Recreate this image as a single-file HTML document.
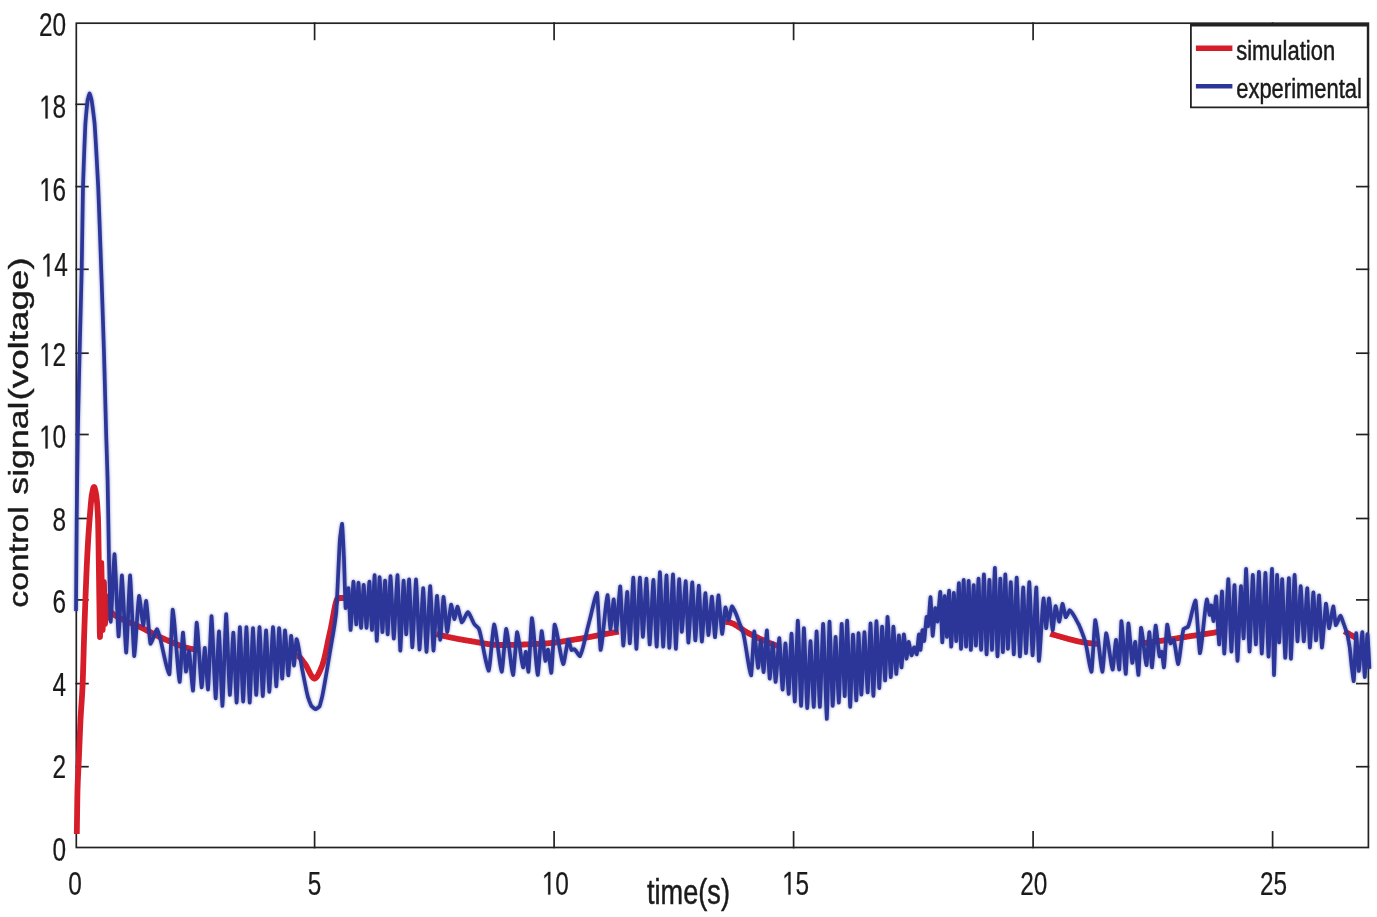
<!DOCTYPE html>
<html><head><meta charset="utf-8"><title>control signal</title>
<style>
html,body{margin:0;padding:0;background:#fff;}
body{width:1377px;height:917px;overflow:hidden;}
svg{display:block;font-family:"Liberation Sans",sans-serif;}
</style></head>
<body>
<svg width="1377" height="917" viewBox="0 0 1377 917">
<rect width="1377" height="917" fill="#ffffff"/>
<g stroke="#222222" stroke-width="1.7" fill="none" stroke-linecap="square">
<rect x="76.3" y="23.2" width="1292.1" height="824.3"/>
<line x1="76.3" y1="766.7" x2="87.9" y2="766.7"/>
<line x1="1368.4" y1="766.7" x2="1356.8" y2="766.7"/>
<line x1="76.3" y1="683.6" x2="87.9" y2="683.6"/>
<line x1="1368.4" y1="683.6" x2="1356.8" y2="683.6"/>
<line x1="76.3" y1="599.9" x2="87.9" y2="599.9"/>
<line x1="1368.4" y1="599.9" x2="1356.8" y2="599.9"/>
<line x1="76.3" y1="518.5" x2="87.9" y2="518.5"/>
<line x1="1368.4" y1="518.5" x2="1356.8" y2="518.5"/>
<line x1="76.3" y1="434.5" x2="87.9" y2="434.5"/>
<line x1="1368.4" y1="434.5" x2="1356.8" y2="434.5"/>
<line x1="76.3" y1="353.2" x2="87.9" y2="353.2"/>
<line x1="1368.4" y1="353.2" x2="1356.8" y2="353.2"/>
<line x1="76.3" y1="269.3" x2="87.9" y2="269.3"/>
<line x1="1368.4" y1="269.3" x2="1356.8" y2="269.3"/>
<line x1="76.3" y1="186.6" x2="87.9" y2="186.6"/>
<line x1="1368.4" y1="186.6" x2="1356.8" y2="186.6"/>
<line x1="76.3" y1="104.3" x2="87.9" y2="104.3"/>
<line x1="1368.4" y1="104.3" x2="1356.8" y2="104.3"/>
<line x1="314.6" y1="847.5" x2="314.6" y2="831.9"/>
<line x1="314.6" y1="23.2" x2="314.6" y2="39.4"/>
<line x1="554.1" y1="847.5" x2="554.1" y2="831.9"/>
<line x1="554.1" y1="23.2" x2="554.1" y2="39.4"/>
<line x1="793.6" y1="847.5" x2="793.6" y2="831.9"/>
<line x1="793.6" y1="23.2" x2="793.6" y2="39.4"/>
<line x1="1033.1" y1="847.5" x2="1033.1" y2="831.9"/>
<line x1="1033.1" y1="23.2" x2="1033.1" y2="39.4"/>
<line x1="1272.6" y1="847.5" x2="1272.6" y2="831.9"/>
<line x1="1272.6" y1="23.2" x2="1272.6" y2="39.4"/>
</g>
<defs><filter id="soft" x="-2%" y="-2%" width="104%" height="104%"><feGaussianBlur stdDeviation="1.5"/></filter></defs>
<path d="M76.8 834.0L77.3 799.2L77.5 790.0L77.8 780.9L78.3 770.1L78.8 760.0L79.3 747.9L79.8 735.6L80.3 724.1L80.5 720.0L80.8 714.6L81.3 706.8L81.8 699.5L82.3 691.2L82.6 685.0L82.8 680.0L83.3 663.9L83.8 646.4L84.0 640.0L84.3 631.0L84.8 616.4L85.3 602.6L85.4 600.0L85.8 589.6L86.3 577.0L86.8 565.3L87.3 555.0L87.8 546.0L88.3 537.7L88.8 530.1L89.3 523.1L89.7 518.0L89.8 516.8L90.3 510.5L90.8 504.5L91.3 499.2L91.8 495.2L92.0 494.0L92.3 492.5L92.8 490.0L93.3 488.1L93.8 487.1L94.0 487.0L94.3 487.2L94.8 488.4L95.3 490.4L95.8 492.9L96.0 494.0L96.3 495.8L96.8 499.9L97.3 505.8L97.8 514.0L98.0 518.0L98.3 529.7L98.8 562.2L99.0 575.0L99.3 597.1L99.8 632.5L100.0 637.0L100.3 627.0L100.8 587.4L101.3 563.0L101.8 585.1L102.3 620.9L102.6 630.0L102.8 626.9L103.3 603.2L103.8 582.8L103.9 582.0L104.3 594.6L104.8 620.3L105.0 624.0L105.3 618.9L105.8 601.1L106.1 596.0L106.3 597.9L106.8 611.4L107.2 618.0L107.3 617.8L107.8 612.0L108.3 606.2L108.4 606.0L108.8 606.3L109.3 607.4L109.8 608.9L110.3 610.5L110.8 611.7L111.0 612.0L111.3 612.3L111.8 612.9L112.3 613.3L112.8 613.8L113.3 614.2L113.8 614.6L114.3 614.9L114.8 615.3L115.3 615.6L115.8 615.8L116.3 616.1L116.8 616.4L117.3 616.6L117.8 616.9L118.3 617.1L118.8 617.4L119.3 617.6L119.8 617.9L120.0 618.0L120.3 618.2L120.8 618.4L121.3 618.7L121.8 619.0L122.3 619.2L122.8 619.5L123.3 619.7L123.8 619.9L124.3 620.2L124.8 620.4L125.3 620.6L125.8 620.9L126.3 621.1L126.8 621.3L127.3 621.5L127.8 621.8L128.3 622.0L128.8 622.2L129.3 622.4L129.8 622.6L130.3 622.8L130.8 623.0L131.3 623.2L131.8 623.4L132.3 623.7L132.8 623.9L133.3 624.1L133.8 624.3L134.3 624.5L134.8 624.7L135.3 624.9L135.8 625.1L136.3 625.3L136.8 625.6L137.3 625.8L137.8 626.0L138.3 626.2L138.8 626.4L139.3 626.7L139.8 626.9L140.0 627.0L140.3 627.1L140.8 627.4L141.3 627.6L141.8 627.9L142.3 628.1L142.8 628.4L143.3 628.6L143.8 628.9L144.3 629.1L144.8 629.4L145.3 629.6L145.8 629.9L146.3 630.2L146.8 630.4L147.3 630.7L147.8 630.9L148.3 631.2L148.8 631.5L149.3 631.7L149.8 632.0L150.3 632.3L150.8 632.5L151.3 632.8L151.8 633.0L152.3 633.3L152.8 633.6L153.3 633.8L153.8 634.1L154.3 634.3L154.8 634.6L155.3 634.9L155.8 635.1L156.3 635.4L156.8 635.6L157.3 635.8L157.8 636.1L158.3 636.3L158.8 636.6L159.3 636.8L159.8 637.0L160.3 637.3L160.8 637.5L161.3 637.7L161.8 637.9L162.0 638.0L162.3 638.1L162.8 638.3L163.3 638.6L163.8 638.8L164.3 639.0L164.8 639.2L165.3 639.4L165.8 639.7L166.3 639.9L166.8 640.1L167.3 640.3L167.8 640.5L168.3 640.8L168.8 641.0L169.3 641.2L169.8 641.4L170.3 641.6L170.8 641.9L171.3 642.1L171.8 642.3L172.3 642.5L172.8 642.7L173.3 642.9L173.8 643.1L174.3 643.4L174.8 643.6L175.3 643.8L175.8 644.0L176.3 644.2L176.8 644.4L177.3 644.6L177.8 644.8L178.3 645.0L178.8 645.2L179.3 645.4L179.8 645.6L180.3 645.7L180.8 645.9L181.3 646.1L181.8 646.3L182.3 646.5L182.8 646.6L183.3 646.8L183.8 647.0L184.3 647.1L184.8 647.3L185.3 647.4L185.8 647.6L186.3 647.7L186.8 647.8L187.3 648.0L187.8 648.1L188.3 648.2L188.8 648.4L189.3 648.5L189.8 648.6L190.3 648.7L190.8 648.8L191.3 648.9L191.8 649.0L192.0 649.0L192.3 649.0L192.8 649.1L193.3 649.2L193.8 649.3L194.3 649.4L194.8 649.5L195.3 649.5L195.8 649.6L196.3 649.7L196.8 649.8L197.3 649.8L197.8 649.9L198.3 650.0L198.8 650.0L199.3 650.1L199.8 650.2M297.0 655.6L297.3 655.6L297.8 655.8L298.3 656.0L298.8 656.4L299.3 656.8L299.8 657.2L300.3 657.8L300.8 658.4L301.3 659.0L301.8 659.7L302.3 660.3L302.8 661.0L303.3 661.7L303.8 662.4L304.3 663.1L304.8 663.7L305.0 664.0L305.3 664.4L305.8 665.1L306.3 665.9L306.8 666.8L307.3 667.8L307.8 668.8L308.3 669.8L308.8 670.8L309.3 671.8L309.8 672.8L310.3 673.8L310.8 674.7L311.3 675.6L311.8 676.3L312.3 677.0L312.8 677.6L313.3 678.0L313.8 678.3L314.3 678.5L314.5 678.5L314.8 678.5L315.3 678.3L315.8 677.9L316.3 677.5L316.8 676.9L317.3 676.1L317.8 675.3L318.3 674.4L318.8 673.4L319.3 672.3L319.8 671.2L320.3 670.1L320.8 668.9L321.3 667.7L321.8 666.5L322.0 666.0L322.3 665.2L322.8 663.8L323.3 662.2L323.8 660.4L324.3 658.4L324.8 656.3L325.3 654.1L325.8 651.8L326.3 649.4L326.8 647.0L327.3 644.5L327.8 642.1L328.3 639.7L328.8 637.3L329.3 635.0L329.8 632.8L330.0 632.0L330.3 630.7L330.8 628.4L331.3 625.8L331.8 623.2L332.3 620.5L332.8 617.7L333.3 615.0L333.8 612.3L334.3 609.7L334.8 607.2L335.3 605.0L335.8 602.9L336.3 601.2L336.8 599.8L337.3 598.8L337.8 598.2L338.2 598.0L338.3 598.0L338.8 598.0L339.3 598.0L339.8 598.0L340.3 598.0L340.8 598.0L341.3 598.0L341.8 598.0L342.3 598.0L342.8 598.0L343.3 598.0L343.8 598.0L344.3 598.0L344.8 598.0L345.0 598.0L345.3 598.0L345.8 598.0L346.3 598.1L346.8 598.1M436.3 634.0L436.8 634.1L437.3 634.3L437.8 634.4L438.3 634.5L438.8 634.7L439.3 634.8L439.8 634.9L440.0 635.0L440.3 635.1L440.8 635.2L441.3 635.3L441.8 635.5L442.3 635.6L442.8 635.7L443.3 635.8L443.8 635.9L444.3 636.1L444.8 636.2L445.3 636.3L445.8 636.4L446.3 636.5L446.8 636.6L447.3 636.8L447.8 636.9L448.3 637.0L448.8 637.1L449.3 637.2L449.8 637.3L450.3 637.4L450.8 637.5L451.3 637.6L451.8 637.7L452.3 637.8L452.8 637.9L453.3 638.0L453.8 638.1L454.3 638.2L454.8 638.3L455.3 638.4L455.8 638.5L456.3 638.6L456.8 638.7L457.3 638.8L457.8 638.9L458.3 639.0L458.8 639.1L459.3 639.2L459.8 639.3L460.3 639.4L460.8 639.4L461.3 639.5L461.8 639.6L462.3 639.7L462.8 639.8L463.3 639.9L463.8 640.0L464.3 640.1L464.8 640.1L465.3 640.2L465.8 640.3L466.3 640.4L466.8 640.5L467.3 640.6L467.8 640.6L468.3 640.7L468.8 640.8L469.3 640.9L469.8 641.0L470.0 641.0L470.3 641.0L470.8 641.1L471.3 641.2L471.8 641.3L472.3 641.4L472.8 641.5L473.3 641.6L473.8 641.6L474.3 641.7L474.8 641.8L475.3 641.9L475.8 642.0L476.3 642.1L476.8 642.2L477.3 642.3L477.8 642.4L478.3 642.4L478.8 642.5L479.3 642.6L479.8 642.7L480.3 642.8L480.8 642.9L481.3 643.0L481.8 643.1L482.3 643.2L482.8 643.2L483.3 643.3L483.8 643.4L484.3 643.5L484.8 643.6L485.3 643.6L485.8 643.7L486.3 643.8L486.8 643.9L487.3 644.0L487.8 644.0L488.3 644.1L488.8 644.2L489.3 644.2L489.8 644.3L490.3 644.4L490.8 644.4L491.3 644.5L491.8 644.5L492.3 644.6L492.8 644.6L493.3 644.7L493.8 644.7L494.3 644.8L494.8 644.8L495.3 644.8L495.8 644.9L496.3 644.9L496.8 644.9L497.3 644.9L497.8 645.0L498.3 645.0L498.8 645.0L499.3 645.0L499.8 645.0L500.0 645.0L500.3 645.0L500.8 645.0L501.3 645.0L501.8 645.0L502.3 645.0L502.8 645.0L503.3 645.0L503.8 645.0L504.3 645.0L504.8 645.0L505.3 645.0L505.8 645.0L506.3 645.0L506.8 645.0L507.3 644.9L507.8 644.9L508.3 644.9L508.8 644.9L509.3 644.9L509.8 644.9L510.3 644.9L510.8 644.9L511.3 644.9L511.8 644.9L512.3 644.9L512.8 644.8L513.3 644.8L513.8 644.8L514.3 644.8L514.8 644.8L515.3 644.8L515.8 644.8L516.3 644.8L516.8 644.7L517.3 644.7L517.8 644.7L518.3 644.7L518.8 644.7L519.3 644.7L519.8 644.7L520.3 644.6L520.8 644.6L521.3 644.6L521.8 644.6L522.3 644.6L522.8 644.6L523.3 644.5L523.8 644.5L524.3 644.5L524.8 644.5L525.3 644.5L525.8 644.4L526.3 644.4L526.8 644.4L527.3 644.4L527.8 644.4L528.3 644.3L528.8 644.3L529.3 644.3L529.8 644.3L530.3 644.2L530.8 644.2L531.3 644.2L531.8 644.2L532.3 644.2L532.8 644.1L533.3 644.1L533.8 644.1L534.3 644.1L534.8 644.0L535.3 644.0L535.8 644.0L536.3 644.0L536.8 643.9L537.3 643.9L537.8 643.9L538.3 643.9L538.8 643.8L539.3 643.8L539.8 643.8L540.3 643.8L540.8 643.7L541.3 643.7L541.8 643.7L542.3 643.6L542.8 643.6L543.3 643.6L543.8 643.6L544.3 643.5L544.8 643.5L545.0 643.5L545.3 643.5L545.8 643.5L546.3 643.4L546.8 643.4L547.3 643.4L547.8 643.3L548.3 643.3L548.8 643.2L549.3 643.2L549.8 643.1L550.3 643.1L550.8 643.0L551.3 643.0L551.8 642.9L552.3 642.9L552.8 642.8L553.3 642.8L553.8 642.7L554.3 642.7L554.8 642.6L555.3 642.5L555.8 642.5L556.3 642.4L556.8 642.3L557.3 642.3L557.8 642.2L558.3 642.1L558.8 642.1L559.3 642.0L559.8 641.9L560.3 641.8L560.8 641.8L561.3 641.7L561.8 641.6L562.3 641.5L562.8 641.5L563.3 641.4L563.8 641.3L564.3 641.2L564.8 641.1L565.3 641.1L565.8 641.0L566.3 640.9L566.8 640.8L567.3 640.7L567.8 640.7L568.3 640.6L568.8 640.5L569.3 640.4L569.8 640.3L570.3 640.2L570.8 640.2L571.3 640.1L571.8 640.0L572.3 639.9L572.8 639.8L573.3 639.8L573.8 639.7L574.3 639.6L574.8 639.5L575.3 639.4L575.8 639.3L576.3 639.3L576.8 639.2L577.3 639.1L577.8 639.0L578.0 639.0L578.3 639.0L578.8 638.9L579.3 638.8L579.8 638.7L580.3 638.6L580.8 638.6L581.3 638.5L581.8 638.4L582.3 638.3L582.8 638.2L583.3 638.1L583.8 638.0L584.3 638.0L584.8 637.9L585.3 637.8L585.8 637.7L586.3 637.6L586.8 637.5L587.3 637.4L587.8 637.3L588.3 637.2L588.8 637.1L589.3 637.1L589.8 637.0L590.3 636.9L590.8 636.8L591.3 636.7L591.8 636.6L592.3 636.5L592.8 636.4L593.3 636.3L593.8 636.2L594.3 636.1L594.8 636.0L595.3 635.9L595.8 635.8L596.3 635.7L596.8 635.6L597.3 635.5L597.8 635.4L598.3 635.4L598.8 635.3L599.3 635.2L599.8 635.1L600.3 635.0L600.8 634.9L601.3 634.8L601.8 634.7L602.3 634.6L602.8 634.5L603.3 634.4L603.8 634.3L604.3 634.2L604.8 634.1L605.3 634.0L605.8 633.9L606.3 633.8L606.8 633.8L607.3 633.7L607.8 633.6L608.3 633.5L608.8 633.4L609.3 633.3L609.8 633.2L610.3 633.1L610.8 633.0L611.0 633.0L611.3 632.9L611.8 632.9L612.3 632.8L612.8 632.7L613.3 632.6L613.8 632.5L614.3 632.4L614.8 632.3L615.3 632.2L615.8 632.2L616.3 632.1L616.8 632.0L617.3 631.9L617.8 631.8L618.3 631.7L618.8 631.6M725.3 621.9L725.8 621.9L726.3 622.0L726.8 622.0L727.0 622.0L727.3 622.0L727.8 622.1L728.3 622.2L728.8 622.3L729.3 622.4L729.8 622.5L730.3 622.6L730.8 622.8L731.3 623.0L731.8 623.2L732.3 623.4L732.8 623.6L733.3 623.8L733.8 624.1L734.3 624.3L734.8 624.6L735.3 624.9L735.8 625.2L736.3 625.5L736.8 625.8L737.3 626.1L737.8 626.4L738.3 626.7L738.8 627.0L739.3 627.4L739.8 627.7L740.3 628.0L740.8 628.3L741.3 628.7L741.8 629.0L742.3 629.4L742.8 629.7L743.3 630.0L743.8 630.4L744.3 630.7L744.8 631.0L745.3 631.3L745.8 631.6L746.3 632.0L746.8 632.3L747.3 632.6L747.8 632.8L748.3 633.1L748.8 633.4L749.3 633.7L749.8 633.9L750.0 634.0L750.3 634.1L750.8 634.4L751.3 634.6L751.8 634.9L752.3 635.1L752.8 635.3L753.3 635.6L753.8 635.8L754.3 636.1L754.8 636.3L755.3 636.5L755.8 636.8L756.3 637.0L756.8 637.3L757.3 637.5L757.8 637.7L758.3 638.0L758.8 638.2L759.3 638.4L759.8 638.7L760.3 638.9L760.8 639.1L761.3 639.4L761.8 639.6L762.3 639.8L762.8 640.1L763.3 640.3L763.8 640.5L764.3 640.7L764.8 641.0L765.3 641.2L765.8 641.4L766.3 641.6L766.8 641.8L767.3 642.0L767.8 642.2L768.3 642.5L768.8 642.7L769.3 642.9L769.8 643.1L770.3 643.3L770.8 643.5L771.3 643.7L771.8 643.8L772.3 644.0L772.8 644.2L773.3 644.4L773.8 644.6L774.3 644.8L774.8 644.9L775.0 645.0L775.3 645.1L775.8 645.3L776.3 645.4L776.8 645.6L777.3 645.8L777.8 646.0L778.3 646.1L778.8 646.3M1050.3 633.8L1050.8 634.0L1051.3 634.1L1051.8 634.3L1052.3 634.4L1052.7 634.5L1052.8 634.5L1053.3 634.7L1053.8 634.8L1054.3 634.9L1054.8 635.1L1055.3 635.2L1055.8 635.4L1056.3 635.5L1056.8 635.6L1057.3 635.8L1057.8 635.9L1058.3 636.1L1058.8 636.2L1059.3 636.4L1059.8 636.5L1060.3 636.6L1060.8 636.8L1061.3 636.9L1061.8 637.1L1062.3 637.2L1062.8 637.4L1063.3 637.5L1063.8 637.6L1064.3 637.8L1064.8 637.9L1065.3 638.1L1065.8 638.2L1066.3 638.3L1066.8 638.5L1067.3 638.6L1067.8 638.8L1068.3 638.9L1068.8 639.0L1069.3 639.2L1069.8 639.3L1070.3 639.4L1070.8 639.6L1071.3 639.7L1071.8 639.8L1072.3 640.0L1072.8 640.1L1073.3 640.2L1073.8 640.3L1074.3 640.4L1074.8 640.6L1075.3 640.7L1075.8 640.8L1076.3 640.9L1076.8 641.0L1077.3 641.2L1077.8 641.3L1078.3 641.4L1078.8 641.5L1079.3 641.6L1079.8 641.7L1080.3 641.8L1080.8 641.9L1081.3 642.0L1081.8 642.1L1082.3 642.2L1082.8 642.3L1083.3 642.3L1083.8 642.4L1084.3 642.5L1084.8 642.6L1085.3 642.7L1085.8 642.7L1086.3 642.8L1086.8 642.9L1087.3 642.9L1087.8 643.0L1088.3 643.0L1088.8 643.1L1089.3 643.2L1089.8 643.2L1090.3 643.2L1090.8 643.3L1091.3 643.3L1091.8 643.4L1092.3 643.4L1092.8 643.5L1093.3 643.5L1093.8 643.6L1094.3 643.6L1094.8 643.7L1095.3 643.7L1095.8 643.7L1096.3 643.8L1096.8 643.8L1097.3 643.9L1097.8 643.9M1140.3 643.6L1140.8 643.5L1141.3 643.4L1141.8 643.4L1142.3 643.3L1142.8 643.2L1143.3 643.2L1143.8 643.1L1144.3 643.0L1144.8 643.0L1145.3 642.9L1145.8 642.8L1146.3 642.8L1146.8 642.7L1147.3 642.6L1147.8 642.6L1148.3 642.5L1148.8 642.4L1149.3 642.4L1149.8 642.3L1150.3 642.2L1150.8 642.2L1151.3 642.1L1151.8 642.0L1152.3 642.0L1152.8 641.9L1153.3 641.8L1153.8 641.8L1154.3 641.7L1154.8 641.6L1155.3 641.6L1155.8 641.5L1156.3 641.4L1156.8 641.4L1157.3 641.3L1157.8 641.2L1158.3 641.2L1158.8 641.1L1159.3 641.0L1159.6 641.0L1159.8 641.0L1160.3 640.9L1160.8 640.8L1161.3 640.8L1161.8 640.7L1162.3 640.6L1162.8 640.6L1163.3 640.5L1163.8 640.4L1164.3 640.4L1164.8 640.3L1165.3 640.2L1165.8 640.1L1166.3 640.1L1166.8 640.0L1167.3 639.9L1167.8 639.8L1168.3 639.8L1168.8 639.7L1169.3 639.6L1169.8 639.5L1170.3 639.5L1170.8 639.4L1171.3 639.3L1171.8 639.2L1172.3 639.1L1172.8 639.0L1173.3 639.0L1173.8 638.9L1174.3 638.8L1174.8 638.7L1175.3 638.6L1175.8 638.5L1176.3 638.5L1176.8 638.4L1177.3 638.3L1177.8 638.2L1178.3 638.1L1178.8 638.0L1179.3 638.0L1179.8 637.9L1180.3 637.8L1180.8 637.7L1181.3 637.6L1181.8 637.5L1182.3 637.4L1182.8 637.4L1183.3 637.3L1183.8 637.2L1184.3 637.1L1184.8 637.0L1185.3 637.0L1185.8 636.9L1186.3 636.8L1186.8 636.7L1187.3 636.6L1187.8 636.5L1188.3 636.5L1188.8 636.4L1189.3 636.3L1189.8 636.2L1190.0 636.2L1190.3 636.2L1190.8 636.1L1191.3 636.0L1191.8 635.9L1192.3 635.9L1192.8 635.8L1193.3 635.7L1193.8 635.6L1194.3 635.6L1194.8 635.5L1195.3 635.4L1195.8 635.3L1196.3 635.3L1196.8 635.2L1197.3 635.1L1197.8 635.1L1198.3 635.0L1198.8 634.9L1199.3 634.8L1199.8 634.8L1200.3 634.7L1200.8 634.6L1201.3 634.6L1201.8 634.5L1202.3 634.4L1202.8 634.4L1203.3 634.3L1203.8 634.2L1204.3 634.1L1204.8 634.1L1205.3 634.0L1205.8 633.9L1206.3 633.8L1206.8 633.8L1207.3 633.7L1207.8 633.6L1208.3 633.5L1208.8 633.5L1209.3 633.4L1209.8 633.3L1210.3 633.2L1210.8 633.2L1211.3 633.1L1211.8 633.0L1212.3 632.9L1212.8 632.8L1213.3 632.8L1213.8 632.7L1214.3 632.6L1214.8 632.5L1215.3 632.4L1215.8 632.3L1216.3 632.2L1216.5 632.2L1216.8 632.1L1217.3 632.1L1217.8 632.0L1218.3 631.9L1218.8 631.8L1219.3 631.7L1219.8 631.5L1220.3 631.4L1220.8 631.3L1221.3 631.2L1221.8 631.1M1344.3 631.2L1344.8 631.5L1345.3 631.8L1345.8 632.1L1346.3 632.4L1346.8 632.7L1347.3 633.0L1347.8 633.2L1348.3 633.5L1348.8 633.8L1349.3 634.1L1349.8 634.4L1350.3 634.7L1350.8 635.0L1351.3 635.3L1351.8 635.5L1352.3 635.8L1352.8 636.1L1353.0 636.2L1353.3 636.4L1353.8 636.6L1354.3 636.9L1354.8 637.2L1355.3 637.5L1355.8 637.7L1356.3 638.0L1356.8 638.3" fill="none" stroke="#d61e2a" stroke-width="5.8" stroke-linejoin="round" stroke-linecap="butt"/>
<path d="M76.0 611.0L76.4 557.2L76.7 520.0L76.8 511.5L77.2 479.2L77.6 449.2L77.8 435.0L78.0 425.0L78.4 406.1L78.8 388.1L79.2 370.6L79.6 353.0L79.6 353.0L80.0 337.0L80.4 321.4L80.8 305.9L81.2 290.0L81.6 273.4L81.7 269.0L82.0 250.5L82.4 223.9L82.8 198.4L83.0 187.0L83.2 180.8L83.6 169.0L84.0 157.8L84.4 147.3L84.8 137.4L85.2 128.1L85.4 123.6L85.6 121.1L86.0 116.3L86.4 111.8L86.8 107.5L87.2 103.6L87.6 100.0L87.6 100.0L88.0 98.4L88.4 97.0L88.8 95.6L89.2 94.4L89.6 93.5L89.6 93.5L90.0 94.4L90.4 95.6L90.8 97.0L91.2 98.5L91.6 100.0L91.6 100.0L92.0 102.7L92.4 105.5L92.8 108.5L93.2 111.7L93.6 114.9L94.0 118.3L94.4 121.8L94.6 123.6L94.8 126.6L95.2 132.9L95.6 139.5L96.0 146.3L96.4 153.4L96.8 160.6L97.2 168.0L97.6 175.6L98.0 183.2L98.2 187.0L98.4 192.0L98.8 202.4L99.2 213.1L99.6 223.9L100.0 235.0L100.4 246.2L100.8 257.5L101.2 268.8L101.6 280.0L101.6 280.0L102.0 291.9L102.4 303.9L102.8 315.9L103.2 328.1L103.6 340.5L104.0 353.0L104.0 353.0L104.4 367.6L104.8 382.6L105.2 397.7L105.6 412.8L106.0 427.7L106.2 435.0L106.4 441.5L106.8 453.9L107.2 466.5L107.6 480.0L107.6 480.0L108.0 502.0L108.4 525.7L108.8 549.1L109.0 560.0L109.2 568.1L109.6 584.6L110.0 600.4L110.4 614.0L110.7 621.8L110.8 620.7L111.2 615.2L111.6 608.3L112.0 600.6L112.4 592.2L112.8 583.7L113.2 575.3L113.6 567.6L114.0 560.7L114.4 555.2L114.5 554.1L114.8 558.2L115.2 565.1L115.6 573.2L116.0 582.2L116.4 591.7L116.8 601.3L117.2 610.7L117.6 619.5L118.0 627.4L118.4 633.9L118.6 636.5L118.8 634.0L119.2 627.7L119.6 620.0L120.0 611.5L120.4 602.6L120.8 594.0L121.2 586.0L121.6 579.3L121.9 575.4L122.0 576.5L122.4 581.9L122.8 588.6L123.2 596.2L123.6 604.4L124.0 613.0L124.4 621.6L124.8 629.9L125.2 637.7L125.6 644.6L126.0 650.3L126.2 652.7L126.4 650.1L126.8 643.6L127.2 635.8L127.6 627.0L128.0 617.6L128.4 608.1L128.8 598.9L129.2 590.3L129.6 582.7L130.0 576.6L130.1 575.4L130.4 579.4L130.8 586.2L131.2 594.1L131.6 602.9L132.0 612.2L132.4 621.6L132.8 630.8L133.2 639.5L133.6 647.1L134.0 653.5L134.2 656.1L134.4 654.8L134.8 651.3L135.2 646.8L135.6 641.6L136.0 635.9L136.4 629.9L136.8 623.7L137.2 617.6L137.6 611.8L138.0 606.4L138.4 601.8L138.8 598.0L139.1 595.9L139.2 596.3L139.6 598.5L140.0 601.1L140.4 604.1L140.8 607.3L141.2 610.7L141.6 614.0L142.0 617.3L142.4 620.2L142.8 622.8L143.2 624.9L143.3 625.3L143.6 623.2L144.0 619.9L144.4 616.0L144.8 611.9L145.2 607.9L145.6 604.3L146.0 601.5L146.1 600.9L146.4 602.8L146.8 606.1L147.2 610.0L147.6 614.3L148.0 618.9L148.4 623.7L148.8 628.3L149.2 632.8L149.6 636.9L150.0 640.5L150.4 643.4L150.5 643.8L150.8 643.4L151.2 642.7L151.6 642.0L152.0 641.1L152.4 640.1L152.8 639.1L153.2 638.0L153.6 636.9L154.0 635.8L154.4 634.7L154.8 633.6L155.2 632.6L155.6 631.6L156.0 630.8L156.4 630.1L156.8 629.5L157.0 629.2L157.2 629.6L157.6 630.4L158.0 631.4L158.4 632.5L158.8 633.7L159.2 635.0L159.6 636.4L160.0 637.8L160.4 639.4L160.8 641.0L161.2 642.7L161.6 644.4L162.0 646.2L162.4 648.0L162.8 649.8L163.2 651.6L163.6 653.5L164.0 655.3L164.4 657.1L164.8 658.9L165.2 660.6L165.6 662.3L166.0 663.9L166.4 665.5L166.8 667.0L167.2 668.4L167.6 669.7L168.0 670.9L168.4 672.0L168.8 673.0L169.2 673.9L169.4 674.3L169.6 672.3L170.0 665.7L170.4 657.6L170.8 648.6L171.2 639.1L171.6 629.8L172.0 621.3L172.4 614.0L172.7 609.6L172.8 610.0L173.2 612.5L173.6 615.7L174.0 619.3L174.4 623.5L174.8 628.0L175.2 632.9L175.6 637.9L176.0 643.1L176.4 648.3L176.8 653.5L177.2 658.6L177.6 663.4L178.0 667.9L178.4 672.1L178.8 675.8L179.2 679.0L179.6 681.5L179.7 682.0L180.0 678.7L180.4 673.2L180.8 666.7L181.2 659.6L181.6 652.4L182.0 645.4L182.4 639.2L182.8 634.2L183.0 632.5L183.2 634.6L183.6 639.1L184.0 644.6L184.4 650.7L184.8 656.8L185.2 662.6L185.6 667.7L186.0 671.6L186.0 671.7L186.4 669.8L186.8 667.2L187.2 664.2L187.6 660.9L188.0 657.7L188.4 654.8L188.8 652.3L189.1 651.0L189.2 651.9L189.6 655.0L190.0 658.9L190.4 663.3L190.8 668.0L191.2 672.8L191.6 677.6L192.0 682.1L192.4 686.1L192.8 689.4L193.0 690.7L193.2 688.2L193.6 682.2L194.0 674.8L194.4 666.5L194.8 657.8L195.2 649.1L195.6 640.7L196.0 633.1L196.4 626.6L196.7 622.7L196.8 623.3L197.2 626.7L197.6 631.0L198.0 636.3L198.4 642.1L198.8 648.3L199.2 654.8L199.6 661.3L200.0 667.6L200.4 673.4L200.8 678.7L201.2 683.1L201.6 686.6L201.7 687.4L202.0 684.9L202.4 680.1L202.8 674.5L203.2 668.4L203.6 662.2L204.0 656.4L204.4 651.4L204.8 647.8L204.8 648.0L205.2 651.8L205.6 656.7L206.0 662.4L206.4 668.5L206.8 674.6L207.2 680.3L207.6 685.3L208.0 689.2L208.0 689.6L208.4 684.3L208.8 676.6L209.2 667.6L209.6 657.7L210.0 647.6L210.4 637.8L210.8 628.8L211.2 621.2L211.5 616.1L211.6 616.9L212.0 622.8L212.4 630.1L212.8 638.5L213.2 647.5L213.6 657.0L214.0 666.5L214.4 675.6L214.8 684.0L215.2 691.4L215.6 697.3L215.7 698.3L216.0 693.7L216.4 686.2L216.8 677.3L217.2 667.7L217.6 658.0L218.0 648.6L218.4 640.2L218.8 633.5L219.0 631.4L219.2 635.0L219.6 642.4L220.0 651.3L220.4 661.1L220.8 671.3L221.2 681.4L221.6 690.8L222.0 699.0L222.4 705.4L222.4 705.9L222.8 699.7L223.2 690.7L223.6 680.2L224.0 668.7L224.4 656.9L224.8 645.2L225.2 634.1L225.6 624.4L226.0 616.4L226.2 614.0L226.4 617.7L226.8 625.1L227.2 634.1L227.6 644.0L228.0 654.4L228.4 664.8L228.8 674.7L229.2 683.7L229.6 691.2L229.9 695.0L230.0 693.4L230.4 687.6L230.8 680.4L231.2 672.4L231.6 663.8L232.0 655.3L232.4 647.2L232.8 640.1L233.2 634.2L233.3 632.5L233.6 636.2L234.0 643.8L234.4 652.9L234.8 662.9L235.2 673.1L235.6 683.1L236.0 692.1L236.4 699.5L236.6 702.7L236.8 699.9L237.2 692.1L237.6 682.6L238.0 671.9L238.4 660.9L238.8 650.0L239.2 640.1L239.6 631.8L239.9 627.1L240.0 628.6L240.4 636.0L240.8 645.1L241.2 655.4L241.6 666.3L242.0 677.1L242.4 687.1L242.8 695.6L243.2 701.6L243.2 701.1L243.6 694.1L244.0 685.3L244.4 675.1L244.8 664.3L245.2 653.4L245.6 643.3L246.0 634.4L246.4 627.5L246.4 627.1L246.8 633.2L247.2 641.9L247.6 652.0L248.0 662.9L248.4 674.0L248.8 684.4L249.2 693.7L249.6 701.1L249.7 702.7L250.0 698.0L250.4 689.7L250.8 679.9L251.2 669.3L251.6 658.4L252.0 647.9L252.4 638.5L252.8 630.8L253.0 628.1L253.2 631.2L253.6 638.3L254.0 646.9L254.4 656.4L254.8 666.2L255.2 675.7L255.6 684.3L256.0 691.6L256.2 695.0L256.4 693.0L256.8 686.1L257.2 677.6L257.6 668.1L258.0 658.2L258.4 648.4L258.8 639.4L259.2 631.8L259.5 627.1L259.6 628.1L260.0 634.7L260.4 643.1L260.8 652.6L261.2 662.7L261.6 672.7L262.0 682.0L262.4 690.1L262.8 696.1L262.8 696.0L263.2 690.1L263.6 682.4L264.0 673.4L264.4 663.9L264.8 654.3L265.2 645.3L265.6 637.3L266.0 631.1L266.1 630.3L266.4 634.8L266.8 641.8L267.2 650.0L267.6 658.8L268.0 667.8L268.4 676.4L268.8 684.0L269.2 690.1L269.3 691.8L269.6 688.6L270.0 682.6L270.4 675.4L270.8 667.5L271.2 659.2L271.6 650.9L272.0 643.0L272.4 635.8L272.8 629.9L273.0 627.1L273.2 628.9L273.6 634.9L274.0 642.4L274.4 650.7L274.8 659.3L275.2 667.8L275.6 675.7L276.0 682.3L276.3 686.3L276.4 685.2L276.8 678.5L277.2 670.0L277.6 660.5L278.0 650.7L278.4 641.4L278.8 633.4L279.1 628.1L279.2 628.7L279.6 633.8L280.0 640.4L280.4 648.0L280.8 655.9L281.2 663.6L281.6 670.6L282.0 676.4L282.2 678.7L282.4 676.4L282.8 670.4L283.2 663.0L283.6 654.9L284.0 646.8L284.4 639.4L284.8 633.1L285.0 630.3L285.2 631.8L285.6 636.4L286.0 642.0L286.4 648.4L286.8 655.0L287.2 661.4L287.6 667.4L288.0 672.4L288.3 675.4L288.4 674.6L288.8 670.0L289.2 664.2L289.6 657.7L290.0 651.0L290.4 644.7L290.8 639.3L291.1 635.8L291.2 636.1L291.6 639.5L292.0 643.8L292.4 648.6L292.8 653.7L293.2 658.5L293.6 662.6L294.0 665.6L294.0 665.5L294.4 662.3L294.8 658.1L295.2 653.4L295.6 648.6L296.0 644.1L296.4 640.4L296.6 639.0L296.8 639.6L297.2 640.9L297.6 642.5L298.0 644.4L298.4 646.4L298.8 648.6L299.2 650.9L299.6 653.4L300.0 655.9L300.4 658.4L300.8 660.9L301.2 663.4L301.6 665.9L302.0 668.2L302.4 670.4L302.5 670.9L302.8 672.4L303.2 674.4L303.6 676.5L304.0 678.5L304.4 680.5L304.8 682.5L305.2 684.5L305.6 686.5L306.0 688.4L306.4 690.3L306.8 692.2L307.2 693.9L307.6 695.6L307.9 697.0L308.0 697.2L308.4 698.3L308.8 699.5L309.2 700.6L309.6 701.6L310.0 702.7L310.4 703.7L310.8 704.6L311.2 705.5L311.4 706.0L311.6 706.1L312.0 706.5L312.4 706.9L312.8 707.3L313.2 707.6L313.6 707.9L314.0 708.2L314.4 708.5L314.8 708.8L315.2 709.0L315.6 709.2L315.6 709.2L316.0 709.0L316.4 708.8L316.8 708.6L317.2 708.3L317.6 708.0L318.0 707.7L318.4 707.4L318.8 707.0L319.2 706.7L319.5 706.4L319.6 706.1L320.0 704.9L320.4 703.6L320.8 702.1L321.2 700.6L321.6 699.0L322.0 697.5L322.1 697.0L322.4 695.6L322.8 693.6L323.2 691.5L323.6 689.3L324.0 687.1L324.4 684.9L324.8 682.7L325.2 680.4L325.6 678.0L326.0 675.7L326.4 673.3L326.8 671.0L327.2 668.6L327.6 666.2L328.0 663.8L328.4 661.4L328.8 659.0L329.2 656.7L329.6 654.3L329.7 653.4L330.0 651.9L330.4 649.5L330.8 647.2L331.2 644.9L331.6 642.6L332.0 640.3L332.4 638.0L332.8 635.7L333.2 633.4L333.6 631.0L334.0 628.5L334.4 625.9L334.8 623.2L335.2 620.4L335.6 617.5L336.0 614.4L336.3 612.0L336.4 610.2L336.8 603.0L337.2 595.1L337.6 586.6L338.0 577.9L338.4 569.1L338.8 560.4L339.2 552.2L339.6 544.6L339.9 539.3L340.0 538.5L340.4 535.2L340.8 532.0L341.2 529.0L341.6 526.4L342.0 524.2L342.1 523.8L342.4 527.6L342.8 534.1L343.2 541.7L343.6 549.8L343.8 554.5L344.0 559.2L344.4 572.4L344.8 586.4L345.2 599.0L345.6 608.2L345.6 608.1L346.0 605.9L346.4 603.1L346.8 599.8L347.2 596.5L347.6 593.2L348.0 590.4L348.4 588.2L348.4 588.1L348.8 593.9L349.2 602.0L349.6 611.1L350.0 620.0L350.4 627.3L350.6 630.0L350.8 627.6L351.2 621.6L351.6 614.2L352.0 606.1L352.4 598.0L352.8 590.6L353.2 584.4L353.4 581.6L353.6 583.3L354.0 588.5L354.4 595.0L354.8 602.1L355.2 609.3L355.6 616.0L356.0 621.6L356.3 624.5L356.4 622.8L356.8 615.9L357.2 607.3L357.6 598.1L358.0 589.7L358.4 583.3L358.5 582.7L358.8 587.2L359.2 594.0L359.6 601.9L360.0 610.2L360.4 617.9L360.8 624.5L361.1 627.8L361.2 626.4L361.6 620.7L362.0 613.6L362.4 605.9L362.8 598.2L363.2 591.2L363.6 585.8L363.7 584.9L364.0 588.3L364.4 594.1L364.8 600.9L365.2 608.1L365.6 615.2L366.0 621.5L366.4 626.6L366.5 627.8L366.8 624.6L367.2 618.5L367.6 611.3L368.0 603.5L368.4 595.8L368.8 588.9L369.2 583.3L369.4 581.6L369.6 584.8L370.0 591.7L370.4 599.9L370.8 608.8L371.2 617.3L371.6 624.7L372.0 630.0L372.0 629.6L372.4 623.0L372.8 614.4L373.2 604.6L373.6 594.6L374.0 585.3L374.4 577.8L374.6 575.1L374.8 579.5L375.2 591.1L375.6 605.0L376.0 619.3L376.4 632.1L376.8 640.9L376.8 640.5L377.2 633.5L377.6 624.5L378.0 614.1L378.4 603.4L378.8 593.1L379.2 584.1L379.6 577.3L379.6 577.2L380.0 582.9L380.4 590.6L380.8 599.5L381.2 608.7L381.6 617.7L382.0 625.6L382.4 631.6L382.4 632.1L382.8 626.9L383.2 619.0L383.6 609.9L384.0 600.5L384.4 591.6L384.8 584.2L385.1 580.5L385.2 582.4L385.6 589.5L386.0 598.4L386.4 608.2L386.8 617.9L387.2 626.6L387.6 633.3L387.7 634.3L388.0 629.5L388.4 621.7L388.8 612.4L389.2 602.6L389.6 593.1L390.0 584.5L390.4 577.6L390.5 576.1L390.8 580.0L391.2 586.9L391.6 595.1L392.0 604.0L392.4 613.2L392.8 622.0L393.2 629.9L393.6 636.3L393.8 638.7L394.0 636.2L394.4 630.5L394.8 623.5L395.2 615.8L395.6 607.7L396.0 599.5L396.4 591.6L396.8 584.5L397.2 578.5L397.5 575.1L397.6 576.9L398.0 585.8L398.4 596.9L398.8 609.4L399.2 622.1L399.6 634.1L400.0 644.3L400.3 650.7L400.4 649.7L400.8 643.0L401.2 634.5L401.6 624.9L402.0 614.6L402.4 604.5L402.8 595.0L403.2 586.8L403.6 580.5L403.6 580.5L404.0 586.8L404.4 595.2L404.8 604.8L405.2 614.6L405.6 623.7L406.0 631.2L406.2 634.3L406.4 631.9L406.8 625.1L407.2 616.8L407.6 607.7L408.0 598.5L408.4 589.9L408.8 582.8L409.1 579.4L409.2 581.4L409.6 588.3L410.0 596.8L410.4 606.3L410.8 616.2L411.2 626.0L411.6 635.0L412.0 642.6L412.3 647.4L412.4 646.5L412.8 640.9L413.2 633.9L413.6 625.9L414.0 617.3L414.4 608.5L414.8 600.0L415.2 592.0L415.6 585.2L416.0 579.8L416.0 579.4L416.4 584.8L416.8 592.2L417.2 600.9L417.6 610.3L418.0 619.9L418.4 629.3L418.8 637.8L419.2 645.1L419.5 649.6L419.6 648.8L420.0 643.7L420.4 637.3L420.8 630.1L421.2 622.3L421.6 614.4L422.0 606.7L422.4 599.5L422.8 593.3L423.2 588.4L423.2 588.1L423.6 593.4L424.0 600.7L424.4 609.3L424.8 618.5L425.2 627.8L425.6 636.6L426.0 644.3L426.4 650.5L426.5 651.8L426.8 648.1L427.2 641.8L427.6 634.5L428.0 626.3L428.4 617.9L428.8 609.4L429.2 601.5L429.6 594.3L430.0 588.4L430.2 586.0L430.4 588.5L430.8 595.2L431.2 603.4L431.6 612.6L432.0 622.0L432.4 631.3L432.8 639.7L433.2 646.8L433.5 650.7L433.6 649.5L434.0 644.4L434.4 638.2L434.8 631.1L435.2 623.7L435.6 616.2L436.0 609.1L436.4 602.7L436.8 597.5L437.0 595.8L437.2 597.9L437.6 602.6L438.0 608.2L438.4 614.5L438.8 620.9L439.2 627.2L439.6 632.9L440.0 637.6L440.2 639.8L440.4 638.4L440.8 634.0L441.2 628.7L441.6 622.6L442.0 616.4L442.4 610.2L442.8 604.5L443.2 599.8L443.5 596.9L443.6 597.4L444.0 600.3L444.4 604.0L444.8 608.1L445.2 612.6L445.6 617.2L446.0 621.6L446.4 625.7L446.8 629.2L447.2 632.0L447.2 632.1L447.6 630.2L448.0 627.7L448.4 624.8L448.8 621.5L449.2 618.2L449.6 614.8L450.0 611.6L450.4 608.7L450.8 606.2L451.1 604.5L451.2 604.7L451.6 606.0L452.0 607.8L452.4 609.8L452.8 611.9L453.2 614.0L453.6 616.0L454.0 617.7L454.4 619.0L454.4 619.1L454.8 617.9L455.2 616.3L455.6 614.5L456.0 612.6L456.4 610.7L456.8 608.9L457.2 607.4L457.5 606.7L457.6 607.0L458.0 608.1L458.4 609.4L458.8 610.9L459.2 612.6L459.6 614.3L460.0 616.0L460.4 617.7L460.8 619.2L461.2 620.6L461.6 621.8L461.8 622.3L462.0 622.2L462.4 621.7L462.8 621.2L463.2 620.6L463.6 619.8L464.0 619.1L464.4 618.2L464.8 617.4L465.2 616.6L465.6 615.7L466.0 615.0L466.4 614.2L466.8 613.5L467.2 612.9L467.6 612.5L467.9 612.1L468.0 612.2L468.4 612.6L468.8 613.1L469.2 613.7L469.6 614.4L470.0 615.2L470.4 616.0L470.8 616.8L471.2 617.7L471.6 618.5L472.0 619.4L472.4 620.3L472.8 621.2L473.2 622.0L473.6 622.8L474.0 623.5L474.4 624.2L474.5 624.3L474.8 624.7L475.2 625.1L475.6 625.5L476.0 625.8L476.4 626.2L476.8 626.6L477.2 627.0L477.6 627.3L478.0 627.7L478.4 628.2L478.8 628.6L478.8 628.7L479.2 629.7L479.6 631.1L480.0 632.6L480.4 634.2L480.8 635.9L481.2 637.7L481.6 639.6L482.0 641.5L482.4 643.5L482.8 645.6L483.2 647.6L483.6 649.7L484.0 651.8L484.4 653.8L484.8 655.8L485.2 657.8L485.6 659.7L486.0 661.5L486.4 663.2L486.8 664.8L487.2 666.3L487.6 667.7L488.0 668.9L488.4 670.0L488.7 670.7L488.8 670.4L489.2 668.2L489.6 665.5L490.0 662.2L490.4 658.5L490.8 654.4L491.2 650.3L491.6 646.0L492.0 641.8L492.4 637.7L492.8 633.9L493.2 630.5L493.6 627.6L494.0 625.3L494.2 624.5L494.4 625.2L494.8 626.8L495.2 628.7L495.6 631.0L496.0 633.5L496.4 636.1L496.8 639.0L497.2 642.0L497.6 645.1L498.0 648.2L498.4 651.3L498.8 654.4L499.2 657.4L499.6 660.2L500.0 662.9L500.4 665.4L500.8 667.6L501.2 669.5L501.6 671.1L501.8 671.8L502.0 670.6L502.4 667.4L502.8 663.7L503.2 659.5L503.6 654.9L504.0 650.2L504.4 645.5L504.8 641.0L505.2 636.8L505.6 633.0L506.0 630.0L506.2 628.9L506.4 629.7L506.8 631.4L507.2 633.5L507.6 636.0L508.0 638.7L508.4 641.7L508.8 644.9L509.2 648.1L509.6 651.4L510.0 654.8L510.4 658.0L510.8 661.2L511.2 664.3L511.6 667.1L512.0 669.6L512.4 671.9L512.8 673.7L513.2 675.0L513.2 674.7L513.6 671.5L514.0 667.4L514.4 662.8L514.8 657.7L515.2 652.5L515.6 647.3L516.0 642.4L516.4 637.9L516.8 634.2L517.1 632.1L517.2 632.5L517.6 634.0L518.0 635.8L518.4 638.0L518.8 640.5L519.2 643.1L519.6 645.9L520.0 648.8L520.4 651.7L520.8 654.6L521.2 657.4L521.6 660.0L522.0 662.3L522.4 664.4L522.8 666.1L523.2 667.4L523.2 667.4L523.6 665.5L524.0 663.0L524.4 660.3L524.8 657.4L525.2 654.8L525.6 652.6L525.8 651.8L526.0 652.8L526.4 655.6L526.8 658.9L527.2 662.6L527.6 666.2L528.0 669.3L528.4 671.7L528.4 671.8L528.8 667.5L529.2 661.8L529.6 655.1L530.0 647.9L530.4 640.5L530.8 633.3L531.2 626.8L531.6 621.3L531.9 618.0L532.0 618.4L532.4 620.8L532.8 623.9L533.2 627.6L533.6 631.8L534.0 636.3L534.4 641.0L534.8 645.9L535.2 650.7L535.6 655.5L536.0 660.1L536.4 664.3L536.8 668.1L537.2 671.4L537.6 674.0L537.8 675.0L538.0 673.5L538.4 669.9L538.8 665.4L539.2 660.5L539.6 655.2L540.0 649.8L540.4 644.6L540.8 639.7L541.2 635.4L541.6 631.9L541.7 631.0L542.0 632.6L542.4 635.4L542.8 638.7L543.2 642.3L543.6 646.2L544.0 650.0L544.4 653.6L544.8 656.9L545.2 659.6L545.4 660.9L545.6 660.4L546.0 658.8L546.4 657.0L546.8 654.9L547.2 652.9L547.6 651.1L548.0 649.7L548.0 649.6L548.4 651.4L548.8 654.0L549.2 657.2L549.6 660.5L550.0 663.9L550.4 667.1L550.8 670.0L551.2 672.3L551.3 672.9L551.6 670.0L552.0 664.7L552.4 658.3L552.8 651.4L553.2 644.4L553.6 637.5L554.0 631.4L554.4 626.4L554.6 624.5L554.8 625.0L555.2 626.1L555.6 627.5L556.0 629.0L556.4 630.7L556.8 632.6L557.2 634.6L557.6 636.7L558.0 638.9L558.4 641.2L558.8 643.4L559.2 645.7L559.6 648.0L560.0 650.2L560.4 652.4L560.8 654.5L561.2 656.5L561.6 658.3L562.0 660.0L562.4 661.5L562.8 662.8L563.2 663.9L563.3 664.1L563.6 663.4L564.0 661.9L564.4 660.1L564.8 658.0L565.2 655.7L565.6 653.3L566.0 650.9L566.4 648.5L566.8 646.2L567.2 644.0L567.6 642.2L568.0 640.7L568.3 639.8L568.4 639.9L568.8 640.9L569.2 642.1L569.6 643.5L570.0 645.0L570.4 646.5L570.8 647.8L571.2 649.0L571.6 650.0L571.6 650.0L572.0 649.9L572.4 649.7L572.8 649.6L573.2 649.4L573.6 649.3L574.0 649.2L574.2 649.1L574.4 649.3L574.8 649.6L575.2 650.0L575.6 650.5L576.0 651.0L576.4 651.6L576.8 652.2L577.2 652.8L577.6 653.4L578.0 654.0L578.4 654.6L578.8 655.1L579.2 655.5L579.6 655.9L579.9 656.1L580.0 655.9L580.4 655.1L580.8 654.1L581.2 653.1L581.6 652.0L582.0 650.7L582.4 649.4L582.8 648.0L583.2 646.5L583.6 645.0L584.0 643.4L584.4 641.8L584.8 640.1L585.2 638.4L585.6 636.7L586.0 635.0L586.4 633.3L586.8 631.6L587.2 629.9L587.6 628.2L588.0 626.6L588.4 625.0L588.8 623.4L589.1 622.5L589.2 622.0L589.6 620.4L590.0 618.8L590.4 617.2L590.8 615.5L591.2 613.8L591.6 612.1L592.0 610.4L592.4 608.7L592.8 607.0L593.2 605.3L593.6 603.7L594.0 602.1L594.4 600.6L594.8 599.1L595.2 597.8L595.6 596.5L596.0 595.4L596.4 594.4L596.8 593.5L597.1 592.9L597.2 593.7L597.6 598.7L598.0 605.1L598.4 612.4L598.8 620.1L599.2 627.9L599.6 635.4L600.0 642.1L600.4 647.7L600.6 650.0L600.8 649.2L601.2 647.2L601.6 644.7L602.0 641.8L602.4 638.5L602.8 635.0L603.2 631.3L603.6 627.4L604.0 623.5L604.4 619.5L604.8 615.6L605.2 611.8L605.6 608.2L606.0 604.8L606.4 601.8L606.8 599.1L607.2 596.8L607.6 595.1L607.6 595.1L608.0 598.8L608.4 603.6L608.8 609.2L609.2 614.9L609.6 620.5L610.0 625.3L610.4 629.1L610.4 629.2L610.8 626.8L611.2 623.3L611.6 619.3L612.0 615.0L612.4 610.6L612.8 606.5L613.2 602.9L613.6 600.0L613.7 599.4L614.0 602.1L614.4 606.7L614.8 612.2L615.2 617.9L615.6 623.3L616.0 628.0L616.3 630.8L616.4 630.2L616.8 626.7L617.2 622.4L617.6 617.6L618.0 612.3L618.4 606.9L618.8 601.5L619.2 596.5L619.6 591.9L620.0 588.2L620.2 586.3L620.4 588.4L620.8 595.0L621.2 603.1L621.6 612.1L622.0 621.4L622.4 630.3L622.8 638.2L623.2 644.4L623.3 645.6L623.6 642.7L624.0 637.9L624.4 632.3L624.8 626.1L625.2 619.6L625.6 613.1L626.0 606.7L626.4 600.9L626.8 595.9L627.2 591.9L627.2 591.8L627.6 597.5L628.0 605.4L628.4 614.6L628.8 624.0L629.2 632.8L629.6 640.1L629.8 643.4L630.0 641.4L630.4 635.2L630.8 627.6L631.2 619.1L631.6 610.1L632.0 601.1L632.4 592.7L632.8 585.2L633.2 579.1L633.3 577.6L633.6 582.1L634.0 590.6L634.4 600.7L634.8 611.8L635.2 622.9L635.6 633.3L636.0 642.3L636.4 648.9L636.4 648.6L636.8 642.6L637.2 634.8L637.6 625.9L638.0 616.3L638.4 606.5L638.8 597.1L639.2 588.5L639.6 581.4L639.9 577.6L640.0 579.3L640.4 585.7L640.8 593.7L641.2 602.7L641.6 612.0L642.0 620.9L642.4 628.9L642.8 635.3L642.9 636.9L643.2 633.7L643.6 627.8L644.0 620.8L644.4 613.1L644.8 605.1L645.2 597.3L645.6 590.0L646.0 583.7L646.4 578.8L646.4 578.7L646.8 584.4L647.2 592.0L647.6 600.9L648.0 610.4L648.4 620.0L648.8 629.1L649.2 637.1L649.6 643.4L649.7 644.5L650.0 640.7L650.4 634.5L650.8 627.2L651.2 619.2L651.6 610.8L652.0 602.6L652.4 594.7L652.8 587.7L653.2 582.0L653.4 579.8L653.6 582.7L654.0 589.7L654.4 598.2L654.8 607.7L655.2 617.5L655.6 627.0L656.0 635.7L656.4 643.0L656.7 646.7L656.8 644.7L657.2 637.2L657.6 627.9L658.0 617.5L658.4 606.7L658.8 595.9L659.2 586.0L659.6 577.6L659.9 572.2L660.0 573.1L660.4 580.2L660.8 589.1L661.2 599.4L661.6 610.2L662.0 621.0L662.4 631.1L662.8 639.9L663.2 646.6L663.2 646.7L663.6 640.4L664.0 632.1L664.4 622.5L664.8 612.2L665.2 601.8L665.6 592.0L666.0 583.3L666.4 576.5L666.5 575.4L666.8 581.4L667.2 591.2L667.6 602.6L668.0 614.8L668.4 626.7L668.8 637.4L669.2 645.9L669.3 647.8L669.6 643.9L670.0 637.0L670.4 628.8L670.8 619.7L671.2 610.3L671.6 600.9L672.0 591.9L672.4 583.9L672.8 577.3L673.0 574.3L673.2 577.5L673.6 586.7L674.0 598.0L674.4 610.4L674.8 622.9L675.2 634.5L675.6 644.1L675.9 648.9L676.0 646.9L676.4 640.1L676.8 631.6L677.2 622.1L677.6 612.1L678.0 602.2L678.4 593.0L678.8 585.1L679.2 579.1L679.2 579.2L679.6 585.4L680.0 593.6L680.4 603.0L680.8 612.6L681.2 621.5L681.6 628.9L681.8 631.8L682.0 630.2L682.4 626.0L682.8 620.9L683.2 615.3L683.6 609.2L684.0 603.0L684.4 597.0L684.8 591.4L685.2 586.4L685.6 582.4L685.7 581.2L686.0 585.7L686.4 594.5L686.8 605.1L687.2 616.3L687.6 627.1L688.0 636.5L688.4 642.7L688.4 642.3L688.8 637.7L689.2 632.0L689.6 625.4L690.0 618.3L690.4 611.0L690.8 603.7L691.2 596.8L691.6 590.5L692.0 585.3L692.3 582.3L692.4 583.8L692.8 590.1L693.2 597.9L693.6 606.7L694.0 615.9L694.4 624.7L694.8 632.6L695.2 638.9L695.3 640.5L695.6 637.6L696.0 632.1L696.4 625.5L696.8 618.3L697.2 610.8L697.6 603.3L698.0 596.5L698.4 590.5L698.8 585.8L698.8 585.6L699.2 590.7L699.6 597.8L700.0 606.0L700.4 614.7L700.8 623.4L701.2 631.4L701.6 638.1L701.9 641.6L702.0 640.5L702.4 636.1L702.8 630.6L703.2 624.4L703.6 617.8L704.0 611.2L704.4 604.9L704.8 599.3L705.2 594.7L705.4 593.2L705.6 595.5L706.0 600.3L706.4 606.2L706.8 612.6L707.2 619.2L707.6 625.4L708.0 630.8L708.4 634.9L708.4 635.1L708.8 632.0L709.2 627.9L709.6 623.1L710.0 618.0L710.4 612.7L710.8 607.5L711.2 602.9L711.6 598.9L711.9 596.5L712.0 597.3L712.4 601.6L712.8 607.0L713.2 613.1L713.6 619.5L714.0 625.7L714.4 631.3L714.8 635.8L715.0 637.2L715.2 635.3L715.6 631.2L716.0 626.2L716.4 620.7L716.8 615.0L717.2 609.3L717.6 604.0L718.0 599.4L718.4 595.8L718.5 595.4L718.8 598.0L719.2 601.7L719.6 606.1L720.0 610.9L720.4 615.9L720.8 620.8L721.2 625.4L721.6 629.5L722.0 632.9L722.2 634.0L722.4 632.6L722.8 629.8L723.2 626.4L723.6 622.6L724.0 618.7L724.4 614.9L724.8 611.5L725.2 608.7L725.4 607.4L725.6 607.8L726.0 609.1L726.4 610.7L726.8 612.4L727.2 614.2L727.6 616.0L728.0 617.6L728.4 619.0L728.7 619.8L728.8 619.5L729.2 618.2L729.6 616.6L730.0 614.7L730.4 612.8L730.8 610.8L731.2 609.0L731.6 607.4L732.0 606.3L732.0 606.4L732.4 606.8L732.8 607.4L733.2 608.1L733.6 608.8L734.0 609.5L734.4 610.3L734.8 611.1L735.2 611.9L735.5 612.4L735.6 612.7L736.0 613.7L736.4 614.8L736.8 615.8L737.2 616.9L737.6 618.0L738.0 619.1L738.4 620.2L738.8 621.3L739.2 622.4L739.4 622.9L739.6 623.4L740.0 624.5L740.4 625.5L740.8 626.5L741.2 627.6L741.6 628.6L742.0 629.7L742.4 630.7L742.8 631.9L743.2 633.0L743.3 633.3L743.6 634.6L744.0 636.6L744.4 638.7L744.8 641.0L745.2 643.3L745.6 645.8L746.0 648.3L746.4 650.8L746.8 653.3L747.2 655.9L747.6 658.4L748.0 660.8L748.4 663.2L748.8 665.5L749.2 667.6L749.6 669.6L750.0 671.4L750.4 673.0L750.8 674.4L751.2 675.4L751.2 675.1L751.6 670.7L752.0 665.0L752.4 658.5L752.8 651.6L753.2 644.8L753.6 638.7L754.0 633.6L754.2 631.4L754.4 632.5L754.8 635.5L755.2 639.1L755.6 643.2L756.0 647.6L756.4 652.0L756.8 656.3L757.2 660.4L757.6 664.0L758.0 666.9L758.1 667.8L758.4 665.9L758.8 661.9L759.2 657.2L759.6 652.1L760.0 647.2L760.4 643.0L760.8 640.1L760.8 640.4L761.2 643.9L761.6 648.5L762.0 653.7L762.4 659.1L762.8 664.3L763.2 668.8L763.6 672.1L763.6 672.1L764.0 668.4L764.4 663.5L764.8 657.8L765.2 651.8L765.6 645.7L766.0 639.9L766.4 634.9L766.8 630.9L766.9 630.3L767.2 634.4L767.6 641.0L768.0 648.7L768.4 656.8L768.8 664.8L769.2 671.9L769.6 677.5L769.7 678.7L770.0 676.3L770.4 672.0L770.8 667.0L771.2 661.5L771.6 656.0L772.0 650.9L772.4 646.4L772.8 643.4L772.8 643.8L773.2 648.0L773.6 653.5L774.0 659.8L774.4 666.3L774.8 672.5L775.2 677.9L775.6 682.0L775.6 681.9L776.0 678.5L776.4 674.1L776.8 669.0L777.2 663.5L777.6 657.8L778.0 652.2L778.4 647.0L778.8 642.4L779.2 638.7L779.3 638.0L779.6 641.3L780.0 647.0L780.4 653.8L780.8 661.2L781.2 668.7L781.6 676.0L782.0 682.5L782.4 687.8L782.6 689.6L782.8 687.0L783.2 681.2L783.6 674.1L784.0 666.3L784.4 658.6L784.8 651.5L785.2 645.7L785.4 643.4L785.6 645.4L786.0 650.6L786.4 657.0L786.8 664.2L787.2 671.6L787.6 678.8L788.0 685.4L788.4 690.9L788.7 694.0L788.8 692.3L789.2 685.2L789.6 676.2L790.0 666.3L790.4 656.1L790.8 646.6L791.2 638.5L791.5 633.6L791.6 634.7L792.0 641.2L792.4 649.5L792.8 658.9L793.2 668.8L793.6 678.6L794.0 687.8L794.4 695.7L794.8 701.6L794.8 701.4L795.2 693.4L795.6 683.0L796.0 671.0L796.4 658.3L796.8 645.8L797.2 634.4L797.6 624.9L797.8 620.5L798.0 623.2L798.4 631.9L798.8 642.6L799.2 654.6L799.6 667.1L800.0 679.4L800.4 690.6L800.8 700.2L801.1 705.9L801.2 704.4L801.6 695.5L802.0 684.1L802.4 671.3L802.8 658.2L803.2 645.8L803.6 635.2L803.9 628.1L804.0 628.9L804.4 636.4L804.8 646.0L805.2 657.0L805.6 668.6L806.0 680.2L806.4 691.1L806.8 700.5L807.2 707.8L807.2 708.1L807.6 702.5L808.0 694.7L808.4 685.7L808.8 676.0L809.2 666.3L809.6 657.0L810.0 648.9L810.4 642.4L810.5 641.2L810.8 645.6L811.2 653.0L811.6 661.6L812.0 671.1L812.4 680.7L812.8 689.9L813.2 698.2L813.6 704.9L813.8 707.0L814.0 702.6L814.4 692.9L814.8 681.2L815.2 668.6L815.6 656.0L816.0 644.4L816.4 635.0L816.6 631.4L816.8 634.6L817.2 642.5L817.6 652.1L818.0 662.8L818.4 673.8L818.8 684.6L819.2 694.5L819.6 702.7L819.9 707.0L820.0 704.9L820.4 696.6L820.8 686.3L821.2 674.7L821.6 662.5L822.0 650.5L822.4 639.4L822.8 630.0L823.1 623.8L823.2 624.7L823.6 632.5L824.0 642.2L824.4 653.4L824.8 665.4L825.2 677.7L825.6 689.7L826.0 700.9L826.4 710.6L826.8 718.3L826.8 719.0L827.2 709.3L827.6 694.5L828.0 677.3L828.4 659.5L828.8 642.7L829.2 628.7L829.5 621.6L829.6 623.8L830.0 632.3L830.4 642.7L830.8 654.5L831.2 666.8L831.6 679.0L832.0 690.2L832.4 699.7L832.7 705.9L832.8 705.0L833.2 697.2L833.6 687.2L834.0 675.9L834.4 664.3L834.8 653.2L835.2 643.6L835.6 636.9L835.6 637.2L836.0 643.3L836.4 651.1L836.8 660.0L837.2 669.6L837.6 679.1L838.0 688.1L838.4 696.0L838.8 702.1L838.8 702.7L839.2 695.4L839.6 684.5L840.0 671.9L840.4 658.6L840.8 645.7L841.2 634.2L841.6 625.2L841.7 623.8L842.0 629.2L842.4 638.1L842.8 648.5L843.2 659.8L843.6 671.0L844.0 681.5L844.4 690.4L844.7 696.1L844.8 694.8L845.2 684.3L845.6 670.7L846.0 655.8L846.4 641.1L846.8 628.4L847.1 620.5L847.2 621.7L847.6 630.7L848.0 642.1L848.4 655.0L848.8 668.6L849.2 681.8L849.6 693.8L850.0 703.5L850.2 707.0L850.4 703.3L850.8 694.1L851.2 683.0L851.6 671.0L852.0 658.9L852.4 647.7L852.8 638.6L853.0 634.7L853.2 637.1L853.6 643.9L854.0 652.2L854.4 661.4L854.8 671.0L855.2 680.5L855.6 689.1L856.0 696.4L856.3 700.5L856.4 698.4L856.8 687.9L857.2 674.6L857.6 660.3L858.0 646.8L858.4 636.0L858.5 633.2L858.8 637.2L859.2 645.2L859.6 654.8L860.0 665.1L860.4 675.3L860.8 684.6L861.2 692.1L861.4 694.7L861.6 691.5L862.0 684.3L862.4 675.5L862.8 665.9L863.2 656.1L863.6 646.8L864.0 638.7L864.4 632.5L864.4 632.1L864.8 637.1L865.2 644.1L865.6 652.2L866.0 660.9L866.4 669.7L866.8 678.1L867.2 685.5L867.6 691.3L867.7 692.5L868.0 687.2L868.4 678.0L868.8 667.1L869.2 655.5L869.6 644.1L870.0 633.8L870.4 625.6L870.5 623.4L870.8 628.2L871.2 637.6L871.6 648.9L872.0 661.1L872.4 673.1L872.8 684.0L873.2 692.9L873.4 695.8L873.6 691.9L874.0 683.2L874.4 672.8L874.8 661.3L875.2 649.7L875.6 638.6L876.0 629.0L876.4 621.6L876.4 621.2L876.8 627.9L877.2 637.2L877.6 647.9L878.0 659.2L878.4 670.1L878.8 679.8L879.2 687.3L879.3 688.1L879.6 682.7L880.0 674.3L880.4 664.5L880.8 654.2L881.2 644.1L881.6 635.1L882.0 628.0L882.1 626.7L882.4 630.5L882.8 637.1L883.2 644.8L883.6 653.2L884.0 661.5L884.4 669.4L884.8 676.1L885.1 680.5L885.2 679.6L885.6 670.9L886.0 659.6L886.4 647.0L886.8 634.6L887.2 623.8L887.5 616.9L887.6 617.5L888.0 623.2L888.4 630.4L888.8 638.7L889.2 647.4L889.6 656.2L890.0 664.4L890.4 671.5L890.8 677.0L890.8 677.2L891.2 671.6L891.6 663.8L892.0 654.9L892.4 645.7L892.8 637.0L893.2 629.9L893.4 626.7L893.6 628.5L894.0 634.3L894.4 641.4L894.8 649.3L895.2 657.2L895.6 664.6L896.0 670.8L896.3 674.0L896.4 672.7L896.8 667.6L897.2 661.3L897.6 654.3L898.0 647.4L898.4 641.1L898.8 636.2L898.9 635.4L899.2 638.2L899.6 643.0L900.0 648.5L900.4 654.4L900.8 660.0L901.2 664.7L901.5 667.4L901.6 666.6L902.0 661.9L902.4 655.8L902.8 649.3L903.2 642.9L903.6 637.4L903.9 634.3L904.0 634.9L904.4 638.0L904.8 642.0L905.2 646.4L905.6 650.8L906.0 654.8L906.4 657.9L906.5 658.7L906.8 657.1L907.2 654.0L907.6 650.4L908.0 646.8L908.4 643.7L908.7 641.9L908.8 642.2L909.2 643.8L909.6 645.8L910.0 648.0L910.4 650.3L910.8 652.4L911.2 654.2L911.5 655.4L911.6 655.3L912.0 654.3L912.4 653.0L912.8 651.6L913.2 650.1L913.6 648.8L914.0 647.7L914.2 647.4L914.4 647.9L914.8 648.8L915.2 650.0L915.6 651.3L916.0 652.5L916.4 653.6L916.8 654.3L916.8 654.2L917.2 651.2L917.6 647.2L918.0 642.8L918.4 638.6L918.8 635.3L919.0 634.3L919.2 636.3L919.6 640.7L920.0 645.5L920.4 649.4L920.5 650.0L920.8 647.4L921.2 643.1L921.6 638.3L922.0 633.7L922.4 630.2L922.4 630.0L922.8 631.8L923.2 634.6L923.6 637.6L924.0 640.2L924.2 641.0L924.4 639.5L924.8 635.8L925.2 631.2L925.6 626.4L926.0 621.9L926.4 618.2L926.6 616.9L926.8 617.8L927.2 620.4L927.6 623.3L928.0 625.7L928.1 626.2L928.4 623.7L928.8 618.9L929.2 613.3L929.6 607.6L930.0 602.3L930.4 598.1L930.5 597.2L930.8 601.0L931.2 608.2L931.6 616.4L932.0 624.7L932.4 631.9L932.7 635.8L932.8 635.1L933.2 631.5L933.6 627.0L934.0 622.0L934.4 617.0L934.8 612.5L935.2 608.9L935.3 608.1L935.6 609.5L936.0 612.0L936.4 614.9L936.8 617.8L937.2 620.3L937.5 621.6L937.6 620.9L938.0 617.4L938.4 613.0L938.8 608.1L939.2 603.1L939.6 598.3L940.0 594.3L940.3 591.8L940.4 593.0L940.8 602.0L941.2 613.7L941.6 625.9L942.0 636.7L942.3 642.3L942.4 640.9L942.8 634.3L943.2 625.9L943.6 616.7L944.0 607.8L944.4 600.2L944.7 596.1L944.8 597.5L945.2 604.1L945.6 612.5L946.0 621.4L946.4 629.7L946.8 636.0L946.9 636.9L947.2 631.5L947.6 622.8L948.0 612.8L948.4 602.9L948.8 594.6L949.1 590.7L949.2 593.3L949.6 602.7L950.0 614.3L950.4 626.6L950.8 637.7L951.2 646.2L951.2 646.7L951.6 641.0L952.0 632.7L952.4 623.3L952.8 613.4L953.2 604.2L953.6 596.5L953.8 592.9L954.0 594.9L954.4 602.1L954.8 611.1L955.2 620.7L955.6 629.9L956.0 637.6L956.2 641.2L956.4 639.0L956.8 631.2L957.2 621.6L957.6 611.0L958.0 600.6L958.4 591.2L958.8 584.0L958.9 583.1L959.2 590.8L959.6 603.3L960.0 617.5L960.4 631.6L960.8 643.5L961.0 648.9L961.2 646.2L961.6 636.9L962.0 625.5L962.4 612.9L962.8 600.5L963.2 589.4L963.6 580.9L963.7 579.8L964.0 586.8L964.4 598.1L964.8 611.1L965.2 624.3L965.6 636.3L966.0 645.6L966.1 646.7L966.4 640.4L966.8 630.5L967.2 619.0L967.6 606.9L968.0 595.6L968.4 586.0L968.7 580.9L968.8 583.4L969.2 594.7L969.6 608.9L970.0 624.1L970.4 638.0L970.8 648.7L970.9 650.0L971.2 644.3L971.6 635.5L972.0 625.2L972.4 614.3L972.8 603.7L973.2 594.2L973.6 586.7L973.7 585.2L974.0 591.5L974.4 602.8L974.8 615.8L975.2 628.8L975.6 639.9L975.9 645.6L976.0 643.6L976.4 634.8L976.8 623.8L977.2 611.7L977.6 599.7L978.0 588.8L978.4 580.3L978.5 578.7L978.8 584.7L979.2 595.3L979.6 607.7L980.0 620.7L980.4 633.1L980.8 643.7L981.1 650.0L981.2 648.5L981.6 639.8L982.0 628.7L982.4 616.3L982.8 603.6L983.2 591.5L983.6 581.2L983.9 574.3L984.0 575.3L984.4 585.2L984.8 597.9L985.2 612.3L985.6 626.8L986.0 640.1L986.4 650.9L986.6 654.3L986.8 650.0L987.2 640.5L987.6 629.0L988.0 616.5L988.4 604.1L988.8 592.7L989.2 583.4L989.4 579.8L989.6 583.5L990.0 593.2L990.4 605.0L990.8 617.8L991.2 630.3L991.6 641.3L992.0 649.7L992.0 650.0L992.4 641.7L992.8 630.2L993.2 617.0L993.6 603.2L994.0 589.8L994.4 577.9L994.8 568.7L994.9 567.8L995.2 576.6L995.6 590.0L996.0 605.6L996.4 621.8L996.8 637.1L997.2 650.0L997.5 656.5L997.6 654.2L998.0 644.9L998.4 633.3L998.8 620.5L999.2 607.4L999.6 595.1L1000.0 584.7L1000.3 578.7L1000.4 580.4L1000.8 589.8L1001.2 601.7L1001.6 614.9L1002.0 628.2L1002.4 640.3L1002.8 649.9L1002.9 652.1L1003.2 645.6L1003.6 632.9L1004.0 618.0L1004.4 602.5L1004.8 588.3L1005.2 576.9L1005.3 574.3L1005.6 580.0L1006.0 590.9L1006.4 603.8L1006.8 617.4L1007.2 630.5L1007.6 641.7L1007.9 648.9L1008.0 648.0L1008.4 640.5L1008.8 630.8L1009.2 619.8L1009.6 608.6L1010.0 597.8L1010.4 588.5L1010.8 582.0L1010.8 582.3L1011.2 589.6L1011.6 598.9L1012.0 609.6L1012.4 621.0L1012.8 632.1L1013.2 642.2L1013.6 650.6L1013.8 654.3L1014.0 651.2L1014.4 641.8L1014.8 630.2L1015.2 617.4L1015.6 604.6L1016.0 592.6L1016.4 582.6L1016.7 577.6L1016.8 579.7L1017.2 587.6L1017.6 597.4L1018.0 608.5L1018.4 620.0L1018.8 631.3L1019.2 641.8L1019.6 650.7L1019.9 656.5L1020.0 655.6L1020.4 649.1L1020.8 640.8L1021.2 631.3L1021.6 621.2L1022.0 611.2L1022.4 601.8L1022.8 593.7L1023.2 587.5L1023.2 587.4L1023.6 594.3L1024.0 603.5L1024.4 614.1L1024.8 625.2L1025.2 635.9L1025.6 645.4L1026.0 652.6L1026.0 653.2L1026.4 647.6L1026.8 639.4L1027.2 629.9L1027.6 619.6L1028.0 609.2L1028.4 599.3L1028.8 590.6L1029.2 583.5L1029.3 582.0L1029.6 586.5L1030.0 594.6L1030.4 604.2L1030.8 614.7L1031.2 625.4L1031.6 635.8L1032.0 645.1L1032.4 652.7L1032.6 655.4L1032.8 652.8L1033.2 646.6L1033.6 639.2L1034.0 631.0L1034.4 622.3L1034.8 613.5L1035.2 605.1L1035.6 597.5L1036.0 591.1L1036.3 587.4L1036.4 589.4L1036.8 598.9L1037.2 610.9L1037.6 624.1L1038.0 637.4L1038.4 649.4L1038.8 658.9L1038.9 660.9L1039.2 658.6L1039.6 654.5L1040.0 649.3L1040.4 643.3L1040.8 636.9L1041.2 630.1L1041.6 623.4L1042.0 616.9L1042.4 610.8L1042.8 605.5L1043.2 601.2L1043.6 598.3L1043.6 598.6L1044.0 602.3L1044.4 607.0L1044.8 612.4L1045.2 617.8L1045.6 622.8L1046.0 626.8L1046.2 628.2L1046.4 626.5L1046.8 622.7L1047.2 618.1L1047.6 613.1L1048.0 608.1L1048.4 603.6L1048.8 599.8L1049.0 598.3L1049.2 599.4L1049.6 602.3L1050.0 605.7L1050.4 609.6L1050.8 613.7L1051.2 617.8L1051.6 621.8L1052.0 625.4L1052.4 628.4L1052.7 630.3L1052.8 629.9L1053.2 627.1L1053.6 623.5L1054.0 619.5L1054.4 615.4L1054.8 611.5L1055.2 608.2L1055.6 606.0L1055.6 606.1L1056.0 607.4L1056.4 608.9L1056.8 610.8L1057.2 612.8L1057.6 614.8L1058.0 616.7L1058.4 618.6L1058.8 620.2L1059.2 621.5L1059.3 621.6L1059.6 620.3L1060.0 618.3L1060.4 615.9L1060.8 613.3L1061.2 610.7L1061.6 608.2L1062.0 606.0L1062.4 604.2L1062.5 603.8L1062.8 604.5L1063.2 606.0L1063.6 607.8L1064.0 609.7L1064.4 611.7L1064.8 613.6L1065.2 615.3L1065.6 616.7L1065.8 617.2L1066.0 617.0L1066.4 616.4L1066.8 615.7L1067.2 615.0L1067.6 614.1L1068.0 613.3L1068.4 612.5L1068.8 611.7L1069.2 611.0L1069.6 610.5L1069.7 610.3L1070.0 610.5L1070.4 610.9L1070.8 611.3L1071.2 611.7L1071.6 612.2L1072.0 612.7L1072.4 613.3L1072.8 613.9L1073.2 614.5L1073.6 615.1L1074.0 615.8L1074.4 616.5L1074.8 617.2L1075.2 617.9L1075.6 618.6L1076.0 619.3L1076.4 620.1L1076.8 620.8L1077.2 621.6L1077.6 622.3L1078.0 623.1L1078.4 623.8L1078.8 624.5L1078.9 624.7L1079.2 625.4L1079.6 626.4L1080.0 627.3L1080.4 628.3L1080.8 629.3L1081.2 630.3L1081.6 631.3L1082.0 632.4L1082.4 633.4L1082.8 634.5L1083.2 635.6L1083.6 636.7L1084.0 637.9L1084.4 639.0L1084.8 640.2L1085.2 641.4L1085.4 642.1L1085.6 642.9L1086.0 644.7L1086.4 646.7L1086.8 648.8L1087.2 651.0L1087.6 653.3L1088.0 655.6L1088.4 657.8L1088.8 660.1L1089.2 662.3L1089.6 664.3L1090.0 666.3L1090.4 668.0L1090.8 669.6L1091.2 670.9L1091.5 671.8L1091.6 671.2L1092.0 667.0L1092.4 661.7L1092.8 655.7L1093.2 649.1L1093.6 642.5L1094.0 636.0L1094.4 629.9L1094.8 624.7L1095.2 620.5L1095.2 620.1L1095.6 621.5L1096.0 623.6L1096.4 626.0L1096.8 628.7L1097.2 631.7L1097.6 635.0L1098.0 638.4L1098.4 642.0L1098.8 645.6L1099.2 649.2L1099.6 652.7L1100.0 656.2L1100.4 659.5L1100.8 662.6L1101.2 665.4L1101.6 667.9L1102.0 670.0L1102.4 671.6L1102.4 671.8L1102.8 669.1L1103.2 665.4L1103.6 661.0L1104.0 656.2L1104.4 651.2L1104.8 646.3L1105.2 641.7L1105.6 637.6L1106.0 634.2L1106.2 633.2L1106.4 634.0L1106.8 635.5L1107.2 637.3L1107.6 639.5L1108.0 641.8L1108.4 644.4L1108.8 647.1L1109.2 649.9L1109.6 652.7L1110.0 655.4L1110.4 658.1L1110.8 660.7L1111.2 663.1L1111.6 665.3L1112.0 667.1L1112.4 668.7L1112.7 669.6L1112.8 669.0L1113.2 666.1L1113.6 662.4L1114.0 658.3L1114.4 653.9L1114.8 649.6L1115.2 645.6L1115.6 642.2L1116.0 639.8L1116.0 640.0L1116.4 642.7L1116.8 646.3L1117.2 650.3L1117.6 654.7L1118.0 659.0L1118.4 663.1L1118.8 666.6L1119.2 669.4L1119.2 669.6L1119.6 663.3L1120.0 654.0L1120.4 643.5L1120.8 633.2L1121.2 624.7L1121.4 621.2L1121.6 622.7L1122.0 626.5L1122.4 631.1L1122.8 636.3L1123.2 641.8L1123.6 647.6L1124.0 653.4L1124.4 659.0L1124.8 664.1L1125.2 668.7L1125.6 672.5L1125.8 674.0L1126.0 671.0L1126.4 663.9L1126.8 655.3L1127.2 646.1L1127.6 637.1L1128.0 629.3L1128.4 623.4L1128.4 623.4L1128.8 626.3L1129.2 630.0L1129.6 634.3L1130.0 638.9L1130.4 643.7L1130.8 648.5L1131.2 653.1L1131.6 657.3L1132.0 660.8L1132.3 663.0L1132.4 662.7L1132.8 660.3L1133.2 657.2L1133.6 653.7L1134.0 650.2L1134.4 646.8L1134.8 643.9L1135.2 641.9L1135.2 642.2L1135.6 645.3L1136.0 649.2L1136.4 653.8L1136.8 658.6L1137.2 663.4L1137.6 667.9L1138.0 671.8L1138.4 674.9L1138.4 675.0L1138.8 670.0L1139.2 662.7L1139.6 654.4L1140.0 645.8L1140.4 637.7L1140.8 630.9L1141.0 627.8L1141.2 628.3L1141.6 630.2L1142.0 632.5L1142.4 635.2L1142.8 638.3L1143.2 641.6L1143.6 645.0L1144.0 648.5L1144.4 651.9L1144.8 655.1L1145.2 658.2L1145.6 660.8L1146.0 663.1L1146.4 664.9L1146.5 665.2L1146.8 662.7L1147.2 658.3L1147.6 653.1L1148.0 647.5L1148.4 642.0L1148.8 637.1L1149.2 633.2L1149.3 632.1L1149.6 634.7L1150.0 639.8L1150.4 645.9L1150.8 652.3L1151.2 658.5L1151.6 663.9L1152.0 667.4L1152.0 667.1L1152.4 663.7L1152.8 659.4L1153.2 654.6L1153.6 649.3L1154.0 643.9L1154.4 638.6L1154.8 633.7L1155.2 629.4L1155.6 626.0L1155.7 625.6L1156.0 627.5L1156.4 630.2L1156.8 633.5L1157.2 637.1L1157.6 640.8L1158.0 644.6L1158.4 648.2L1158.8 651.5L1159.2 654.3L1159.6 656.5L1159.6 656.5L1160.0 655.8L1160.4 654.8L1160.8 653.8L1161.2 652.8L1161.6 652.0L1161.8 651.8L1162.0 653.0L1162.4 655.8L1162.8 659.1L1163.2 662.5L1163.6 665.5L1163.9 667.4L1164.0 667.0L1164.4 663.0L1164.8 657.8L1165.2 651.9L1165.6 645.7L1166.0 639.5L1166.4 633.6L1166.8 628.6L1167.2 624.7L1167.2 624.5L1167.6 626.1L1168.0 628.3L1168.4 630.8L1168.8 633.6L1169.2 636.3L1169.6 639.0L1170.0 641.3L1170.4 643.1L1170.5 643.4L1170.8 643.2L1171.2 642.8L1171.6 642.3L1172.0 641.8L1172.4 641.2L1172.8 640.7L1173.2 640.3L1173.6 639.9L1173.8 639.8L1174.0 640.6L1174.4 642.5L1174.8 644.6L1175.2 647.1L1175.6 649.7L1176.0 652.3L1176.4 655.0L1176.8 657.5L1177.2 659.9L1177.6 662.0L1178.0 663.7L1178.1 664.1L1178.4 663.2L1178.8 661.3L1179.2 659.0L1179.6 656.4L1180.0 653.6L1180.4 650.5L1180.8 647.3L1181.2 644.1L1181.6 641.0L1182.0 638.0L1182.4 635.2L1182.8 632.7L1183.2 630.6L1183.6 629.1L1183.6 629.0L1184.0 628.8L1184.4 628.6L1184.8 628.4L1185.2 628.2L1185.6 628.0L1186.0 627.8L1186.4 627.7L1186.8 627.5L1187.2 627.3L1187.6 627.1L1187.9 626.9L1188.0 626.7L1188.4 625.8L1188.8 624.7L1189.2 623.4L1189.6 622.0L1190.0 620.5L1190.4 619.0L1190.8 617.3L1191.2 615.6L1191.6 613.9L1192.0 612.2L1192.4 610.6L1192.8 608.9L1193.2 607.4L1193.6 605.9L1194.0 604.5L1194.4 603.3L1194.8 602.2L1195.2 601.2L1195.6 600.5L1195.6 600.7L1196.0 604.2L1196.4 608.5L1196.8 613.5L1197.2 618.9L1197.6 624.6L1198.0 630.4L1198.4 636.1L1198.8 641.5L1199.2 646.3L1199.6 650.5L1199.9 653.2L1200.0 653.0L1200.4 651.2L1200.8 648.9L1201.2 646.1L1201.6 643.1L1202.0 639.7L1202.4 636.1L1202.8 632.4L1203.2 628.5L1203.6 624.7L1204.0 620.8L1204.4 617.1L1204.8 613.4L1205.2 610.1L1205.6 606.9L1206.0 604.2L1206.4 601.8L1206.8 599.9L1206.9 599.4L1207.2 600.5L1207.6 602.5L1208.0 604.9L1208.4 607.5L1208.8 610.0L1209.2 612.4L1209.6 614.3L1209.8 614.9L1210.0 614.0L1210.4 611.6L1210.8 608.8L1211.2 606.4L1211.4 605.5L1211.6 606.5L1212.0 609.5L1212.4 613.0L1212.8 616.6L1213.2 619.7L1213.5 621.1L1213.6 620.1L1214.0 616.9L1214.4 612.8L1214.8 608.4L1215.2 604.0L1215.6 600.1L1216.0 597.0L1216.1 596.3L1216.4 599.7L1216.8 605.5L1217.2 612.4L1217.6 619.9L1218.0 627.3L1218.4 634.4L1218.8 640.4L1219.2 644.5L1219.2 644.0L1219.6 638.2L1220.0 630.7L1220.4 622.1L1220.8 613.1L1221.2 604.6L1221.6 597.1L1222.0 591.4L1222.0 591.3L1222.4 599.6L1222.8 611.4L1223.2 624.6L1223.6 637.5L1224.0 648.5L1224.3 653.7L1224.4 652.0L1224.8 646.3L1225.2 639.3L1225.6 631.4L1226.0 622.8L1226.4 614.1L1226.8 605.4L1227.2 597.2L1227.6 589.7L1228.0 583.3L1228.3 579.0L1228.4 580.0L1228.8 587.4L1229.2 597.0L1229.6 607.8L1230.0 619.2L1230.4 630.3L1230.8 640.3L1231.2 648.5L1231.4 651.6L1231.6 648.6L1232.0 641.0L1232.4 631.8L1232.8 621.6L1233.2 611.2L1233.6 601.3L1234.0 592.6L1234.4 585.9L1234.5 585.1L1234.8 591.4L1235.2 600.7L1235.6 611.7L1236.0 623.5L1236.4 635.2L1236.8 646.1L1237.2 655.3L1237.5 660.8L1237.6 659.6L1238.0 652.9L1238.4 644.5L1238.8 634.9L1239.2 624.7L1239.6 614.4L1240.0 604.6L1240.4 595.9L1240.8 588.7L1241.0 586.2L1241.2 589.2L1241.6 596.4L1242.0 605.1L1242.4 614.5L1242.8 623.7L1243.2 631.8L1243.6 638.0L1243.6 638.4L1244.0 630.4L1244.4 618.7L1244.8 605.4L1245.2 591.9L1245.6 579.7L1246.0 570.2L1246.1 568.8L1246.4 574.3L1246.8 582.9L1247.2 593.1L1247.6 604.2L1248.0 615.7L1248.4 626.8L1248.8 637.1L1249.2 645.8L1249.5 651.6L1249.6 650.8L1250.0 643.6L1250.4 634.3L1250.8 623.8L1251.2 612.6L1251.6 601.4L1252.0 591.0L1252.4 582.0L1252.8 575.0L1252.8 574.9L1253.2 581.6L1253.6 590.4L1254.0 600.6L1254.4 611.5L1254.8 622.2L1255.2 632.1L1255.6 640.3L1255.9 644.5L1256.0 642.4L1256.4 634.5L1256.8 624.7L1257.2 613.7L1257.6 602.3L1258.0 591.4L1258.4 581.6L1258.8 573.8L1258.9 571.9L1259.2 577.5L1259.6 588.2L1260.0 600.8L1260.4 614.5L1260.8 628.0L1261.2 640.3L1261.6 650.3L1261.8 653.7L1262.0 650.4L1262.4 643.0L1262.8 634.1L1263.2 624.1L1263.6 613.6L1264.0 603.2L1264.4 593.2L1264.8 584.1L1265.2 576.6L1265.4 572.9L1265.6 575.6L1266.0 584.8L1266.4 596.3L1266.8 609.0L1267.2 622.1L1267.6 634.7L1268.0 645.9L1268.4 654.9L1268.5 656.7L1268.8 651.6L1269.2 642.6L1269.6 631.8L1270.0 620.1L1270.4 607.9L1270.8 596.1L1271.2 585.1L1271.6 575.6L1272.0 568.8L1272.0 569.7L1272.4 586.9L1272.8 609.9L1273.2 634.8L1273.6 657.7L1274.0 674.7L1274.0 675.1L1274.4 665.7L1274.8 653.0L1275.2 638.4L1275.6 622.8L1276.0 607.3L1276.4 593.1L1276.8 581.2L1277.1 574.9L1277.2 577.8L1277.6 589.9L1278.0 605.1L1278.4 620.8L1278.8 634.6L1279.1 642.5L1279.2 641.3L1279.6 634.6L1280.0 626.2L1280.4 616.7L1280.8 606.8L1281.2 597.1L1281.6 588.4L1282.0 581.4L1282.2 579.0L1282.4 583.1L1282.8 592.2L1283.2 603.2L1283.6 615.3L1284.0 627.6L1284.4 639.3L1284.8 649.5L1285.2 657.3L1285.2 657.8L1285.6 652.0L1286.0 644.1L1286.4 634.8L1286.8 624.7L1287.2 614.3L1287.6 604.1L1288.0 594.5L1288.4 586.1L1288.8 579.4L1288.9 578.0L1289.2 587.1L1289.6 603.5L1290.0 622.3L1290.4 640.4L1290.8 655.1L1290.9 658.8L1291.2 654.7L1291.6 646.8L1292.0 637.4L1292.4 627.0L1292.8 616.1L1293.2 605.3L1293.6 595.0L1294.0 585.7L1294.4 578.1L1294.6 574.9L1294.8 578.0L1295.2 586.2L1295.6 596.2L1296.0 607.2L1296.4 618.3L1296.8 628.5L1297.2 637.1L1297.5 641.4L1297.6 639.9L1298.0 634.4L1298.4 627.5L1298.8 619.8L1299.2 611.7L1299.6 603.7L1300.0 596.3L1300.4 590.1L1300.7 586.2L1300.8 587.0L1301.2 592.7L1301.6 600.0L1302.0 608.3L1302.4 616.9L1302.8 625.4L1303.2 633.0L1303.6 639.2L1303.8 641.4L1304.0 639.2L1304.4 634.0L1304.8 627.7L1305.2 620.6L1305.6 613.3L1306.0 606.0L1306.4 599.3L1306.8 593.3L1307.2 588.7L1307.3 588.2L1307.6 594.0L1308.0 602.9L1308.4 613.1L1308.8 623.9L1309.2 634.0L1309.6 642.7L1309.9 647.6L1310.0 646.6L1310.4 641.6L1310.8 635.3L1311.2 628.2L1311.6 620.6L1312.0 613.0L1312.4 605.8L1312.8 599.3L1313.2 594.0L1313.4 592.3L1313.6 595.2L1314.0 601.9L1314.4 610.0L1314.8 618.7L1315.2 627.1L1315.6 634.6L1316.0 640.2L1316.0 640.4L1316.4 636.3L1316.8 630.6L1317.2 624.0L1317.6 617.0L1318.0 610.0L1318.4 603.6L1318.8 598.2L1319.1 595.3L1319.2 596.8L1319.6 602.9L1320.0 610.6L1320.4 619.1L1320.8 627.9L1321.2 636.1L1321.6 643.1L1321.9 647.6L1322.0 647.1L1322.4 643.9L1322.8 639.9L1323.2 635.3L1323.6 630.3L1324.0 625.2L1324.4 620.0L1324.8 615.1L1325.2 610.6L1325.6 606.7L1326.0 603.6L1326.0 603.5L1326.4 605.8L1326.8 608.9L1327.2 612.6L1327.6 616.4L1328.0 620.2L1328.4 623.7L1328.8 626.7L1329.1 628.2L1329.2 627.8L1329.6 626.2L1330.0 624.3L1330.4 622.2L1330.8 619.8L1331.2 617.4L1331.6 615.0L1332.0 612.7L1332.4 610.5L1332.8 608.6L1333.2 607.0L1333.4 606.5L1333.6 607.9L1334.0 610.8L1334.4 614.2L1334.8 617.9L1335.2 621.3L1335.6 624.1L1335.8 625.1L1336.0 624.9L1336.4 624.3L1336.8 623.6L1337.2 622.7L1337.6 621.8L1338.0 620.8L1338.4 619.8L1338.8 618.8L1339.2 617.9L1339.6 617.0L1340.0 616.3L1340.4 615.8L1340.5 615.7L1340.8 616.2L1341.2 617.0L1341.6 618.0L1342.0 619.0L1342.4 620.1L1342.8 621.2L1343.2 622.4L1343.6 623.5L1344.0 624.6L1344.4 625.6L1344.4 625.7L1344.8 626.9L1345.2 628.0L1345.6 629.2L1346.0 630.4L1346.4 631.5L1346.8 632.8L1347.2 634.1L1347.4 634.8L1347.6 635.7L1348.0 637.7L1348.4 639.8L1348.8 642.0L1349.2 644.3L1349.6 646.6L1349.7 647.0L1350.0 650.1L1350.4 653.9L1350.8 658.0L1351.2 662.0L1351.6 665.9L1351.7 666.8L1352.0 669.1L1352.4 672.3L1352.8 675.4L1353.2 678.2L1353.6 680.6L1353.7 681.2L1354.0 677.6L1354.4 670.1L1354.8 661.1L1355.2 651.7L1355.6 642.9L1356.0 635.6L1356.2 633.1L1356.4 635.1L1356.8 640.3L1357.2 646.7L1357.6 653.5L1358.0 660.2L1358.4 666.1L1358.8 670.6L1358.8 671.0L1359.2 668.1L1359.6 664.0L1360.0 659.1L1360.4 653.9L1360.8 648.5L1361.2 643.3L1361.6 638.5L1362.0 634.5L1362.3 632.0L1362.4 633.1L1362.8 639.4L1363.2 647.3L1363.6 656.1L1364.0 664.7L1364.4 672.2L1364.8 677.1L1364.8 676.7L1365.2 671.5L1365.6 664.8L1366.0 657.2L1366.4 649.4L1366.8 642.3L1367.2 636.4L1367.4 634.1L1367.6 636.2L1368.0 641.5L1368.4 647.8L1368.8 655.2L1369.2 663.4L1369.4 668.9" fill="none" stroke="#2b3698" stroke-width="3.7" stroke-linejoin="round" filter="url(#soft)" opacity="0.55"/>
<path d="M76.0 611.0L76.4 557.2L76.7 520.0L76.8 511.5L77.2 479.2L77.6 449.2L77.8 435.0L78.0 425.0L78.4 406.1L78.8 388.1L79.2 370.6L79.6 353.0L79.6 353.0L80.0 337.0L80.4 321.4L80.8 305.9L81.2 290.0L81.6 273.4L81.7 269.0L82.0 250.5L82.4 223.9L82.8 198.4L83.0 187.0L83.2 180.8L83.6 169.0L84.0 157.8L84.4 147.3L84.8 137.4L85.2 128.1L85.4 123.6L85.6 121.1L86.0 116.3L86.4 111.8L86.8 107.5L87.2 103.6L87.6 100.0L87.6 100.0L88.0 98.4L88.4 97.0L88.8 95.6L89.2 94.4L89.6 93.5L89.6 93.5L90.0 94.4L90.4 95.6L90.8 97.0L91.2 98.5L91.6 100.0L91.6 100.0L92.0 102.7L92.4 105.5L92.8 108.5L93.2 111.7L93.6 114.9L94.0 118.3L94.4 121.8L94.6 123.6L94.8 126.6L95.2 132.9L95.6 139.5L96.0 146.3L96.4 153.4L96.8 160.6L97.2 168.0L97.6 175.6L98.0 183.2L98.2 187.0L98.4 192.0L98.8 202.4L99.2 213.1L99.6 223.9L100.0 235.0L100.4 246.2L100.8 257.5L101.2 268.8L101.6 280.0L101.6 280.0L102.0 291.9L102.4 303.9L102.8 315.9L103.2 328.1L103.6 340.5L104.0 353.0L104.0 353.0L104.4 367.6L104.8 382.6L105.2 397.7L105.6 412.8L106.0 427.7L106.2 435.0L106.4 441.5L106.8 453.9L107.2 466.5L107.6 480.0L107.6 480.0L108.0 502.0L108.4 525.7L108.8 549.1L109.0 560.0L109.2 568.1L109.6 584.6L110.0 600.4L110.4 614.0L110.7 621.8L110.8 620.7L111.2 615.2L111.6 608.3L112.0 600.6L112.4 592.2L112.8 583.7L113.2 575.3L113.6 567.6L114.0 560.7L114.4 555.2L114.5 554.1L114.8 558.2L115.2 565.1L115.6 573.2L116.0 582.2L116.4 591.7L116.8 601.3L117.2 610.7L117.6 619.5L118.0 627.4L118.4 633.9L118.6 636.5L118.8 634.0L119.2 627.7L119.6 620.0L120.0 611.5L120.4 602.6L120.8 594.0L121.2 586.0L121.6 579.3L121.9 575.4L122.0 576.5L122.4 581.9L122.8 588.6L123.2 596.2L123.6 604.4L124.0 613.0L124.4 621.6L124.8 629.9L125.2 637.7L125.6 644.6L126.0 650.3L126.2 652.7L126.4 650.1L126.8 643.6L127.2 635.8L127.6 627.0L128.0 617.6L128.4 608.1L128.8 598.9L129.2 590.3L129.6 582.7L130.0 576.6L130.1 575.4L130.4 579.4L130.8 586.2L131.2 594.1L131.6 602.9L132.0 612.2L132.4 621.6L132.8 630.8L133.2 639.5L133.6 647.1L134.0 653.5L134.2 656.1L134.4 654.8L134.8 651.3L135.2 646.8L135.6 641.6L136.0 635.9L136.4 629.9L136.8 623.7L137.2 617.6L137.6 611.8L138.0 606.4L138.4 601.8L138.8 598.0L139.1 595.9L139.2 596.3L139.6 598.5L140.0 601.1L140.4 604.1L140.8 607.3L141.2 610.7L141.6 614.0L142.0 617.3L142.4 620.2L142.8 622.8L143.2 624.9L143.3 625.3L143.6 623.2L144.0 619.9L144.4 616.0L144.8 611.9L145.2 607.9L145.6 604.3L146.0 601.5L146.1 600.9L146.4 602.8L146.8 606.1L147.2 610.0L147.6 614.3L148.0 618.9L148.4 623.7L148.8 628.3L149.2 632.8L149.6 636.9L150.0 640.5L150.4 643.4L150.5 643.8L150.8 643.4L151.2 642.7L151.6 642.0L152.0 641.1L152.4 640.1L152.8 639.1L153.2 638.0L153.6 636.9L154.0 635.8L154.4 634.7L154.8 633.6L155.2 632.6L155.6 631.6L156.0 630.8L156.4 630.1L156.8 629.5L157.0 629.2L157.2 629.6L157.6 630.4L158.0 631.4L158.4 632.5L158.8 633.7L159.2 635.0L159.6 636.4L160.0 637.8L160.4 639.4L160.8 641.0L161.2 642.7L161.6 644.4L162.0 646.2L162.4 648.0L162.8 649.8L163.2 651.6L163.6 653.5L164.0 655.3L164.4 657.1L164.8 658.9L165.2 660.6L165.6 662.3L166.0 663.9L166.4 665.5L166.8 667.0L167.2 668.4L167.6 669.7L168.0 670.9L168.4 672.0L168.8 673.0L169.2 673.9L169.4 674.3L169.6 672.3L170.0 665.7L170.4 657.6L170.8 648.6L171.2 639.1L171.6 629.8L172.0 621.3L172.4 614.0L172.7 609.6L172.8 610.0L173.2 612.5L173.6 615.7L174.0 619.3L174.4 623.5L174.8 628.0L175.2 632.9L175.6 637.9L176.0 643.1L176.4 648.3L176.8 653.5L177.2 658.6L177.6 663.4L178.0 667.9L178.4 672.1L178.8 675.8L179.2 679.0L179.6 681.5L179.7 682.0L180.0 678.7L180.4 673.2L180.8 666.7L181.2 659.6L181.6 652.4L182.0 645.4L182.4 639.2L182.8 634.2L183.0 632.5L183.2 634.6L183.6 639.1L184.0 644.6L184.4 650.7L184.8 656.8L185.2 662.6L185.6 667.7L186.0 671.6L186.0 671.7L186.4 669.8L186.8 667.2L187.2 664.2L187.6 660.9L188.0 657.7L188.4 654.8L188.8 652.3L189.1 651.0L189.2 651.9L189.6 655.0L190.0 658.9L190.4 663.3L190.8 668.0L191.2 672.8L191.6 677.6L192.0 682.1L192.4 686.1L192.8 689.4L193.0 690.7L193.2 688.2L193.6 682.2L194.0 674.8L194.4 666.5L194.8 657.8L195.2 649.1L195.6 640.7L196.0 633.1L196.4 626.6L196.7 622.7L196.8 623.3L197.2 626.7L197.6 631.0L198.0 636.3L198.4 642.1L198.8 648.3L199.2 654.8L199.6 661.3L200.0 667.6L200.4 673.4L200.8 678.7L201.2 683.1L201.6 686.6L201.7 687.4L202.0 684.9L202.4 680.1L202.8 674.5L203.2 668.4L203.6 662.2L204.0 656.4L204.4 651.4L204.8 647.8L204.8 648.0L205.2 651.8L205.6 656.7L206.0 662.4L206.4 668.5L206.8 674.6L207.2 680.3L207.6 685.3L208.0 689.2L208.0 689.6L208.4 684.3L208.8 676.6L209.2 667.6L209.6 657.7L210.0 647.6L210.4 637.8L210.8 628.8L211.2 621.2L211.5 616.1L211.6 616.9L212.0 622.8L212.4 630.1L212.8 638.5L213.2 647.5L213.6 657.0L214.0 666.5L214.4 675.6L214.8 684.0L215.2 691.4L215.6 697.3L215.7 698.3L216.0 693.7L216.4 686.2L216.8 677.3L217.2 667.7L217.6 658.0L218.0 648.6L218.4 640.2L218.8 633.5L219.0 631.4L219.2 635.0L219.6 642.4L220.0 651.3L220.4 661.1L220.8 671.3L221.2 681.4L221.6 690.8L222.0 699.0L222.4 705.4L222.4 705.9L222.8 699.7L223.2 690.7L223.6 680.2L224.0 668.7L224.4 656.9L224.8 645.2L225.2 634.1L225.6 624.4L226.0 616.4L226.2 614.0L226.4 617.7L226.8 625.1L227.2 634.1L227.6 644.0L228.0 654.4L228.4 664.8L228.8 674.7L229.2 683.7L229.6 691.2L229.9 695.0L230.0 693.4L230.4 687.6L230.8 680.4L231.2 672.4L231.6 663.8L232.0 655.3L232.4 647.2L232.8 640.1L233.2 634.2L233.3 632.5L233.6 636.2L234.0 643.8L234.4 652.9L234.8 662.9L235.2 673.1L235.6 683.1L236.0 692.1L236.4 699.5L236.6 702.7L236.8 699.9L237.2 692.1L237.6 682.6L238.0 671.9L238.4 660.9L238.8 650.0L239.2 640.1L239.6 631.8L239.9 627.1L240.0 628.6L240.4 636.0L240.8 645.1L241.2 655.4L241.6 666.3L242.0 677.1L242.4 687.1L242.8 695.6L243.2 701.6L243.2 701.1L243.6 694.1L244.0 685.3L244.4 675.1L244.8 664.3L245.2 653.4L245.6 643.3L246.0 634.4L246.4 627.5L246.4 627.1L246.8 633.2L247.2 641.9L247.6 652.0L248.0 662.9L248.4 674.0L248.8 684.4L249.2 693.7L249.6 701.1L249.7 702.7L250.0 698.0L250.4 689.7L250.8 679.9L251.2 669.3L251.6 658.4L252.0 647.9L252.4 638.5L252.8 630.8L253.0 628.1L253.2 631.2L253.6 638.3L254.0 646.9L254.4 656.4L254.8 666.2L255.2 675.7L255.6 684.3L256.0 691.6L256.2 695.0L256.4 693.0L256.8 686.1L257.2 677.6L257.6 668.1L258.0 658.2L258.4 648.4L258.8 639.4L259.2 631.8L259.5 627.1L259.6 628.1L260.0 634.7L260.4 643.1L260.8 652.6L261.2 662.7L261.6 672.7L262.0 682.0L262.4 690.1L262.8 696.1L262.8 696.0L263.2 690.1L263.6 682.4L264.0 673.4L264.4 663.9L264.8 654.3L265.2 645.3L265.6 637.3L266.0 631.1L266.1 630.3L266.4 634.8L266.8 641.8L267.2 650.0L267.6 658.8L268.0 667.8L268.4 676.4L268.8 684.0L269.2 690.1L269.3 691.8L269.6 688.6L270.0 682.6L270.4 675.4L270.8 667.5L271.2 659.2L271.6 650.9L272.0 643.0L272.4 635.8L272.8 629.9L273.0 627.1L273.2 628.9L273.6 634.9L274.0 642.4L274.4 650.7L274.8 659.3L275.2 667.8L275.6 675.7L276.0 682.3L276.3 686.3L276.4 685.2L276.8 678.5L277.2 670.0L277.6 660.5L278.0 650.7L278.4 641.4L278.8 633.4L279.1 628.1L279.2 628.7L279.6 633.8L280.0 640.4L280.4 648.0L280.8 655.9L281.2 663.6L281.6 670.6L282.0 676.4L282.2 678.7L282.4 676.4L282.8 670.4L283.2 663.0L283.6 654.9L284.0 646.8L284.4 639.4L284.8 633.1L285.0 630.3L285.2 631.8L285.6 636.4L286.0 642.0L286.4 648.4L286.8 655.0L287.2 661.4L287.6 667.4L288.0 672.4L288.3 675.4L288.4 674.6L288.8 670.0L289.2 664.2L289.6 657.7L290.0 651.0L290.4 644.7L290.8 639.3L291.1 635.8L291.2 636.1L291.6 639.5L292.0 643.8L292.4 648.6L292.8 653.7L293.2 658.5L293.6 662.6L294.0 665.6L294.0 665.5L294.4 662.3L294.8 658.1L295.2 653.4L295.6 648.6L296.0 644.1L296.4 640.4L296.6 639.0L296.8 639.6L297.2 640.9L297.6 642.5L298.0 644.4L298.4 646.4L298.8 648.6L299.2 650.9L299.6 653.4L300.0 655.9L300.4 658.4L300.8 660.9L301.2 663.4L301.6 665.9L302.0 668.2L302.4 670.4L302.5 670.9L302.8 672.4L303.2 674.4L303.6 676.5L304.0 678.5L304.4 680.5L304.8 682.5L305.2 684.5L305.6 686.5L306.0 688.4L306.4 690.3L306.8 692.2L307.2 693.9L307.6 695.6L307.9 697.0L308.0 697.2L308.4 698.3L308.8 699.5L309.2 700.6L309.6 701.6L310.0 702.7L310.4 703.7L310.8 704.6L311.2 705.5L311.4 706.0L311.6 706.1L312.0 706.5L312.4 706.9L312.8 707.3L313.2 707.6L313.6 707.9L314.0 708.2L314.4 708.5L314.8 708.8L315.2 709.0L315.6 709.2L315.6 709.2L316.0 709.0L316.4 708.8L316.8 708.6L317.2 708.3L317.6 708.0L318.0 707.7L318.4 707.4L318.8 707.0L319.2 706.7L319.5 706.4L319.6 706.1L320.0 704.9L320.4 703.6L320.8 702.1L321.2 700.6L321.6 699.0L322.0 697.5L322.1 697.0L322.4 695.6L322.8 693.6L323.2 691.5L323.6 689.3L324.0 687.1L324.4 684.9L324.8 682.7L325.2 680.4L325.6 678.0L326.0 675.7L326.4 673.3L326.8 671.0L327.2 668.6L327.6 666.2L328.0 663.8L328.4 661.4L328.8 659.0L329.2 656.7L329.6 654.3L329.7 653.4L330.0 651.9L330.4 649.5L330.8 647.2L331.2 644.9L331.6 642.6L332.0 640.3L332.4 638.0L332.8 635.7L333.2 633.4L333.6 631.0L334.0 628.5L334.4 625.9L334.8 623.2L335.2 620.4L335.6 617.5L336.0 614.4L336.3 612.0L336.4 610.2L336.8 603.0L337.2 595.1L337.6 586.6L338.0 577.9L338.4 569.1L338.8 560.4L339.2 552.2L339.6 544.6L339.9 539.3L340.0 538.5L340.4 535.2L340.8 532.0L341.2 529.0L341.6 526.4L342.0 524.2L342.1 523.8L342.4 527.6L342.8 534.1L343.2 541.7L343.6 549.8L343.8 554.5L344.0 559.2L344.4 572.4L344.8 586.4L345.2 599.0L345.6 608.2L345.6 608.1L346.0 605.9L346.4 603.1L346.8 599.8L347.2 596.5L347.6 593.2L348.0 590.4L348.4 588.2L348.4 588.1L348.8 593.9L349.2 602.0L349.6 611.1L350.0 620.0L350.4 627.3L350.6 630.0L350.8 627.6L351.2 621.6L351.6 614.2L352.0 606.1L352.4 598.0L352.8 590.6L353.2 584.4L353.4 581.6L353.6 583.3L354.0 588.5L354.4 595.0L354.8 602.1L355.2 609.3L355.6 616.0L356.0 621.6L356.3 624.5L356.4 622.8L356.8 615.9L357.2 607.3L357.6 598.1L358.0 589.7L358.4 583.3L358.5 582.7L358.8 587.2L359.2 594.0L359.6 601.9L360.0 610.2L360.4 617.9L360.8 624.5L361.1 627.8L361.2 626.4L361.6 620.7L362.0 613.6L362.4 605.9L362.8 598.2L363.2 591.2L363.6 585.8L363.7 584.9L364.0 588.3L364.4 594.1L364.8 600.9L365.2 608.1L365.6 615.2L366.0 621.5L366.4 626.6L366.5 627.8L366.8 624.6L367.2 618.5L367.6 611.3L368.0 603.5L368.4 595.8L368.8 588.9L369.2 583.3L369.4 581.6L369.6 584.8L370.0 591.7L370.4 599.9L370.8 608.8L371.2 617.3L371.6 624.7L372.0 630.0L372.0 629.6L372.4 623.0L372.8 614.4L373.2 604.6L373.6 594.6L374.0 585.3L374.4 577.8L374.6 575.1L374.8 579.5L375.2 591.1L375.6 605.0L376.0 619.3L376.4 632.1L376.8 640.9L376.8 640.5L377.2 633.5L377.6 624.5L378.0 614.1L378.4 603.4L378.8 593.1L379.2 584.1L379.6 577.3L379.6 577.2L380.0 582.9L380.4 590.6L380.8 599.5L381.2 608.7L381.6 617.7L382.0 625.6L382.4 631.6L382.4 632.1L382.8 626.9L383.2 619.0L383.6 609.9L384.0 600.5L384.4 591.6L384.8 584.2L385.1 580.5L385.2 582.4L385.6 589.5L386.0 598.4L386.4 608.2L386.8 617.9L387.2 626.6L387.6 633.3L387.7 634.3L388.0 629.5L388.4 621.7L388.8 612.4L389.2 602.6L389.6 593.1L390.0 584.5L390.4 577.6L390.5 576.1L390.8 580.0L391.2 586.9L391.6 595.1L392.0 604.0L392.4 613.2L392.8 622.0L393.2 629.9L393.6 636.3L393.8 638.7L394.0 636.2L394.4 630.5L394.8 623.5L395.2 615.8L395.6 607.7L396.0 599.5L396.4 591.6L396.8 584.5L397.2 578.5L397.5 575.1L397.6 576.9L398.0 585.8L398.4 596.9L398.8 609.4L399.2 622.1L399.6 634.1L400.0 644.3L400.3 650.7L400.4 649.7L400.8 643.0L401.2 634.5L401.6 624.9L402.0 614.6L402.4 604.5L402.8 595.0L403.2 586.8L403.6 580.5L403.6 580.5L404.0 586.8L404.4 595.2L404.8 604.8L405.2 614.6L405.6 623.7L406.0 631.2L406.2 634.3L406.4 631.9L406.8 625.1L407.2 616.8L407.6 607.7L408.0 598.5L408.4 589.9L408.8 582.8L409.1 579.4L409.2 581.4L409.6 588.3L410.0 596.8L410.4 606.3L410.8 616.2L411.2 626.0L411.6 635.0L412.0 642.6L412.3 647.4L412.4 646.5L412.8 640.9L413.2 633.9L413.6 625.9L414.0 617.3L414.4 608.5L414.8 600.0L415.2 592.0L415.6 585.2L416.0 579.8L416.0 579.4L416.4 584.8L416.8 592.2L417.2 600.9L417.6 610.3L418.0 619.9L418.4 629.3L418.8 637.8L419.2 645.1L419.5 649.6L419.6 648.8L420.0 643.7L420.4 637.3L420.8 630.1L421.2 622.3L421.6 614.4L422.0 606.7L422.4 599.5L422.8 593.3L423.2 588.4L423.2 588.1L423.6 593.4L424.0 600.7L424.4 609.3L424.8 618.5L425.2 627.8L425.6 636.6L426.0 644.3L426.4 650.5L426.5 651.8L426.8 648.1L427.2 641.8L427.6 634.5L428.0 626.3L428.4 617.9L428.8 609.4L429.2 601.5L429.6 594.3L430.0 588.4L430.2 586.0L430.4 588.5L430.8 595.2L431.2 603.4L431.6 612.6L432.0 622.0L432.4 631.3L432.8 639.7L433.2 646.8L433.5 650.7L433.6 649.5L434.0 644.4L434.4 638.2L434.8 631.1L435.2 623.7L435.6 616.2L436.0 609.1L436.4 602.7L436.8 597.5L437.0 595.8L437.2 597.9L437.6 602.6L438.0 608.2L438.4 614.5L438.8 620.9L439.2 627.2L439.6 632.9L440.0 637.6L440.2 639.8L440.4 638.4L440.8 634.0L441.2 628.7L441.6 622.6L442.0 616.4L442.4 610.2L442.8 604.5L443.2 599.8L443.5 596.9L443.6 597.4L444.0 600.3L444.4 604.0L444.8 608.1L445.2 612.6L445.6 617.2L446.0 621.6L446.4 625.7L446.8 629.2L447.2 632.0L447.2 632.1L447.6 630.2L448.0 627.7L448.4 624.8L448.8 621.5L449.2 618.2L449.6 614.8L450.0 611.6L450.4 608.7L450.8 606.2L451.1 604.5L451.2 604.7L451.6 606.0L452.0 607.8L452.4 609.8L452.8 611.9L453.2 614.0L453.6 616.0L454.0 617.7L454.4 619.0L454.4 619.1L454.8 617.9L455.2 616.3L455.6 614.5L456.0 612.6L456.4 610.7L456.8 608.9L457.2 607.4L457.5 606.7L457.6 607.0L458.0 608.1L458.4 609.4L458.8 610.9L459.2 612.6L459.6 614.3L460.0 616.0L460.4 617.7L460.8 619.2L461.2 620.6L461.6 621.8L461.8 622.3L462.0 622.2L462.4 621.7L462.8 621.2L463.2 620.6L463.6 619.8L464.0 619.1L464.4 618.2L464.8 617.4L465.2 616.6L465.6 615.7L466.0 615.0L466.4 614.2L466.8 613.5L467.2 612.9L467.6 612.5L467.9 612.1L468.0 612.2L468.4 612.6L468.8 613.1L469.2 613.7L469.6 614.4L470.0 615.2L470.4 616.0L470.8 616.8L471.2 617.7L471.6 618.5L472.0 619.4L472.4 620.3L472.8 621.2L473.2 622.0L473.6 622.8L474.0 623.5L474.4 624.2L474.5 624.3L474.8 624.7L475.2 625.1L475.6 625.5L476.0 625.8L476.4 626.2L476.8 626.6L477.2 627.0L477.6 627.3L478.0 627.7L478.4 628.2L478.8 628.6L478.8 628.7L479.2 629.7L479.6 631.1L480.0 632.6L480.4 634.2L480.8 635.9L481.2 637.7L481.6 639.6L482.0 641.5L482.4 643.5L482.8 645.6L483.2 647.6L483.6 649.7L484.0 651.8L484.4 653.8L484.8 655.8L485.2 657.8L485.6 659.7L486.0 661.5L486.4 663.2L486.8 664.8L487.2 666.3L487.6 667.7L488.0 668.9L488.4 670.0L488.7 670.7L488.8 670.4L489.2 668.2L489.6 665.5L490.0 662.2L490.4 658.5L490.8 654.4L491.2 650.3L491.6 646.0L492.0 641.8L492.4 637.7L492.8 633.9L493.2 630.5L493.6 627.6L494.0 625.3L494.2 624.5L494.4 625.2L494.8 626.8L495.2 628.7L495.6 631.0L496.0 633.5L496.4 636.1L496.8 639.0L497.2 642.0L497.6 645.1L498.0 648.2L498.4 651.3L498.8 654.4L499.2 657.4L499.6 660.2L500.0 662.9L500.4 665.4L500.8 667.6L501.2 669.5L501.6 671.1L501.8 671.8L502.0 670.6L502.4 667.4L502.8 663.7L503.2 659.5L503.6 654.9L504.0 650.2L504.4 645.5L504.8 641.0L505.2 636.8L505.6 633.0L506.0 630.0L506.2 628.9L506.4 629.7L506.8 631.4L507.2 633.5L507.6 636.0L508.0 638.7L508.4 641.7L508.8 644.9L509.2 648.1L509.6 651.4L510.0 654.8L510.4 658.0L510.8 661.2L511.2 664.3L511.6 667.1L512.0 669.6L512.4 671.9L512.8 673.7L513.2 675.0L513.2 674.7L513.6 671.5L514.0 667.4L514.4 662.8L514.8 657.7L515.2 652.5L515.6 647.3L516.0 642.4L516.4 637.9L516.8 634.2L517.1 632.1L517.2 632.5L517.6 634.0L518.0 635.8L518.4 638.0L518.8 640.5L519.2 643.1L519.6 645.9L520.0 648.8L520.4 651.7L520.8 654.6L521.2 657.4L521.6 660.0L522.0 662.3L522.4 664.4L522.8 666.1L523.2 667.4L523.2 667.4L523.6 665.5L524.0 663.0L524.4 660.3L524.8 657.4L525.2 654.8L525.6 652.6L525.8 651.8L526.0 652.8L526.4 655.6L526.8 658.9L527.2 662.6L527.6 666.2L528.0 669.3L528.4 671.7L528.4 671.8L528.8 667.5L529.2 661.8L529.6 655.1L530.0 647.9L530.4 640.5L530.8 633.3L531.2 626.8L531.6 621.3L531.9 618.0L532.0 618.4L532.4 620.8L532.8 623.9L533.2 627.6L533.6 631.8L534.0 636.3L534.4 641.0L534.8 645.9L535.2 650.7L535.6 655.5L536.0 660.1L536.4 664.3L536.8 668.1L537.2 671.4L537.6 674.0L537.8 675.0L538.0 673.5L538.4 669.9L538.8 665.4L539.2 660.5L539.6 655.2L540.0 649.8L540.4 644.6L540.8 639.7L541.2 635.4L541.6 631.9L541.7 631.0L542.0 632.6L542.4 635.4L542.8 638.7L543.2 642.3L543.6 646.2L544.0 650.0L544.4 653.6L544.8 656.9L545.2 659.6L545.4 660.9L545.6 660.4L546.0 658.8L546.4 657.0L546.8 654.9L547.2 652.9L547.6 651.1L548.0 649.7L548.0 649.6L548.4 651.4L548.8 654.0L549.2 657.2L549.6 660.5L550.0 663.9L550.4 667.1L550.8 670.0L551.2 672.3L551.3 672.9L551.6 670.0L552.0 664.7L552.4 658.3L552.8 651.4L553.2 644.4L553.6 637.5L554.0 631.4L554.4 626.4L554.6 624.5L554.8 625.0L555.2 626.1L555.6 627.5L556.0 629.0L556.4 630.7L556.8 632.6L557.2 634.6L557.6 636.7L558.0 638.9L558.4 641.2L558.8 643.4L559.2 645.7L559.6 648.0L560.0 650.2L560.4 652.4L560.8 654.5L561.2 656.5L561.6 658.3L562.0 660.0L562.4 661.5L562.8 662.8L563.2 663.9L563.3 664.1L563.6 663.4L564.0 661.9L564.4 660.1L564.8 658.0L565.2 655.7L565.6 653.3L566.0 650.9L566.4 648.5L566.8 646.2L567.2 644.0L567.6 642.2L568.0 640.7L568.3 639.8L568.4 639.9L568.8 640.9L569.2 642.1L569.6 643.5L570.0 645.0L570.4 646.5L570.8 647.8L571.2 649.0L571.6 650.0L571.6 650.0L572.0 649.9L572.4 649.7L572.8 649.6L573.2 649.4L573.6 649.3L574.0 649.2L574.2 649.1L574.4 649.3L574.8 649.6L575.2 650.0L575.6 650.5L576.0 651.0L576.4 651.6L576.8 652.2L577.2 652.8L577.6 653.4L578.0 654.0L578.4 654.6L578.8 655.1L579.2 655.5L579.6 655.9L579.9 656.1L580.0 655.9L580.4 655.1L580.8 654.1L581.2 653.1L581.6 652.0L582.0 650.7L582.4 649.4L582.8 648.0L583.2 646.5L583.6 645.0L584.0 643.4L584.4 641.8L584.8 640.1L585.2 638.4L585.6 636.7L586.0 635.0L586.4 633.3L586.8 631.6L587.2 629.9L587.6 628.2L588.0 626.6L588.4 625.0L588.8 623.4L589.1 622.5L589.2 622.0L589.6 620.4L590.0 618.8L590.4 617.2L590.8 615.5L591.2 613.8L591.6 612.1L592.0 610.4L592.4 608.7L592.8 607.0L593.2 605.3L593.6 603.7L594.0 602.1L594.4 600.6L594.8 599.1L595.2 597.8L595.6 596.5L596.0 595.4L596.4 594.4L596.8 593.5L597.1 592.9L597.2 593.7L597.6 598.7L598.0 605.1L598.4 612.4L598.8 620.1L599.2 627.9L599.6 635.4L600.0 642.1L600.4 647.7L600.6 650.0L600.8 649.2L601.2 647.2L601.6 644.7L602.0 641.8L602.4 638.5L602.8 635.0L603.2 631.3L603.6 627.4L604.0 623.5L604.4 619.5L604.8 615.6L605.2 611.8L605.6 608.2L606.0 604.8L606.4 601.8L606.8 599.1L607.2 596.8L607.6 595.1L607.6 595.1L608.0 598.8L608.4 603.6L608.8 609.2L609.2 614.9L609.6 620.5L610.0 625.3L610.4 629.1L610.4 629.2L610.8 626.8L611.2 623.3L611.6 619.3L612.0 615.0L612.4 610.6L612.8 606.5L613.2 602.9L613.6 600.0L613.7 599.4L614.0 602.1L614.4 606.7L614.8 612.2L615.2 617.9L615.6 623.3L616.0 628.0L616.3 630.8L616.4 630.2L616.8 626.7L617.2 622.4L617.6 617.6L618.0 612.3L618.4 606.9L618.8 601.5L619.2 596.5L619.6 591.9L620.0 588.2L620.2 586.3L620.4 588.4L620.8 595.0L621.2 603.1L621.6 612.1L622.0 621.4L622.4 630.3L622.8 638.2L623.2 644.4L623.3 645.6L623.6 642.7L624.0 637.9L624.4 632.3L624.8 626.1L625.2 619.6L625.6 613.1L626.0 606.7L626.4 600.9L626.8 595.9L627.2 591.9L627.2 591.8L627.6 597.5L628.0 605.4L628.4 614.6L628.8 624.0L629.2 632.8L629.6 640.1L629.8 643.4L630.0 641.4L630.4 635.2L630.8 627.6L631.2 619.1L631.6 610.1L632.0 601.1L632.4 592.7L632.8 585.2L633.2 579.1L633.3 577.6L633.6 582.1L634.0 590.6L634.4 600.7L634.8 611.8L635.2 622.9L635.6 633.3L636.0 642.3L636.4 648.9L636.4 648.6L636.8 642.6L637.2 634.8L637.6 625.9L638.0 616.3L638.4 606.5L638.8 597.1L639.2 588.5L639.6 581.4L639.9 577.6L640.0 579.3L640.4 585.7L640.8 593.7L641.2 602.7L641.6 612.0L642.0 620.9L642.4 628.9L642.8 635.3L642.9 636.9L643.2 633.7L643.6 627.8L644.0 620.8L644.4 613.1L644.8 605.1L645.2 597.3L645.6 590.0L646.0 583.7L646.4 578.8L646.4 578.7L646.8 584.4L647.2 592.0L647.6 600.9L648.0 610.4L648.4 620.0L648.8 629.1L649.2 637.1L649.6 643.4L649.7 644.5L650.0 640.7L650.4 634.5L650.8 627.2L651.2 619.2L651.6 610.8L652.0 602.6L652.4 594.7L652.8 587.7L653.2 582.0L653.4 579.8L653.6 582.7L654.0 589.7L654.4 598.2L654.8 607.7L655.2 617.5L655.6 627.0L656.0 635.7L656.4 643.0L656.7 646.7L656.8 644.7L657.2 637.2L657.6 627.9L658.0 617.5L658.4 606.7L658.8 595.9L659.2 586.0L659.6 577.6L659.9 572.2L660.0 573.1L660.4 580.2L660.8 589.1L661.2 599.4L661.6 610.2L662.0 621.0L662.4 631.1L662.8 639.9L663.2 646.6L663.2 646.7L663.6 640.4L664.0 632.1L664.4 622.5L664.8 612.2L665.2 601.8L665.6 592.0L666.0 583.3L666.4 576.5L666.5 575.4L666.8 581.4L667.2 591.2L667.6 602.6L668.0 614.8L668.4 626.7L668.8 637.4L669.2 645.9L669.3 647.8L669.6 643.9L670.0 637.0L670.4 628.8L670.8 619.7L671.2 610.3L671.6 600.9L672.0 591.9L672.4 583.9L672.8 577.3L673.0 574.3L673.2 577.5L673.6 586.7L674.0 598.0L674.4 610.4L674.8 622.9L675.2 634.5L675.6 644.1L675.9 648.9L676.0 646.9L676.4 640.1L676.8 631.6L677.2 622.1L677.6 612.1L678.0 602.2L678.4 593.0L678.8 585.1L679.2 579.1L679.2 579.2L679.6 585.4L680.0 593.6L680.4 603.0L680.8 612.6L681.2 621.5L681.6 628.9L681.8 631.8L682.0 630.2L682.4 626.0L682.8 620.9L683.2 615.3L683.6 609.2L684.0 603.0L684.4 597.0L684.8 591.4L685.2 586.4L685.6 582.4L685.7 581.2L686.0 585.7L686.4 594.5L686.8 605.1L687.2 616.3L687.6 627.1L688.0 636.5L688.4 642.7L688.4 642.3L688.8 637.7L689.2 632.0L689.6 625.4L690.0 618.3L690.4 611.0L690.8 603.7L691.2 596.8L691.6 590.5L692.0 585.3L692.3 582.3L692.4 583.8L692.8 590.1L693.2 597.9L693.6 606.7L694.0 615.9L694.4 624.7L694.8 632.6L695.2 638.9L695.3 640.5L695.6 637.6L696.0 632.1L696.4 625.5L696.8 618.3L697.2 610.8L697.6 603.3L698.0 596.5L698.4 590.5L698.8 585.8L698.8 585.6L699.2 590.7L699.6 597.8L700.0 606.0L700.4 614.7L700.8 623.4L701.2 631.4L701.6 638.1L701.9 641.6L702.0 640.5L702.4 636.1L702.8 630.6L703.2 624.4L703.6 617.8L704.0 611.2L704.4 604.9L704.8 599.3L705.2 594.7L705.4 593.2L705.6 595.5L706.0 600.3L706.4 606.2L706.8 612.6L707.2 619.2L707.6 625.4L708.0 630.8L708.4 634.9L708.4 635.1L708.8 632.0L709.2 627.9L709.6 623.1L710.0 618.0L710.4 612.7L710.8 607.5L711.2 602.9L711.6 598.9L711.9 596.5L712.0 597.3L712.4 601.6L712.8 607.0L713.2 613.1L713.6 619.5L714.0 625.7L714.4 631.3L714.8 635.8L715.0 637.2L715.2 635.3L715.6 631.2L716.0 626.2L716.4 620.7L716.8 615.0L717.2 609.3L717.6 604.0L718.0 599.4L718.4 595.8L718.5 595.4L718.8 598.0L719.2 601.7L719.6 606.1L720.0 610.9L720.4 615.9L720.8 620.8L721.2 625.4L721.6 629.5L722.0 632.9L722.2 634.0L722.4 632.6L722.8 629.8L723.2 626.4L723.6 622.6L724.0 618.7L724.4 614.9L724.8 611.5L725.2 608.7L725.4 607.4L725.6 607.8L726.0 609.1L726.4 610.7L726.8 612.4L727.2 614.2L727.6 616.0L728.0 617.6L728.4 619.0L728.7 619.8L728.8 619.5L729.2 618.2L729.6 616.6L730.0 614.7L730.4 612.8L730.8 610.8L731.2 609.0L731.6 607.4L732.0 606.3L732.0 606.4L732.4 606.8L732.8 607.4L733.2 608.1L733.6 608.8L734.0 609.5L734.4 610.3L734.8 611.1L735.2 611.9L735.5 612.4L735.6 612.7L736.0 613.7L736.4 614.8L736.8 615.8L737.2 616.9L737.6 618.0L738.0 619.1L738.4 620.2L738.8 621.3L739.2 622.4L739.4 622.9L739.6 623.4L740.0 624.5L740.4 625.5L740.8 626.5L741.2 627.6L741.6 628.6L742.0 629.7L742.4 630.7L742.8 631.9L743.2 633.0L743.3 633.3L743.6 634.6L744.0 636.6L744.4 638.7L744.8 641.0L745.2 643.3L745.6 645.8L746.0 648.3L746.4 650.8L746.8 653.3L747.2 655.9L747.6 658.4L748.0 660.8L748.4 663.2L748.8 665.5L749.2 667.6L749.6 669.6L750.0 671.4L750.4 673.0L750.8 674.4L751.2 675.4L751.2 675.1L751.6 670.7L752.0 665.0L752.4 658.5L752.8 651.6L753.2 644.8L753.6 638.7L754.0 633.6L754.2 631.4L754.4 632.5L754.8 635.5L755.2 639.1L755.6 643.2L756.0 647.6L756.4 652.0L756.8 656.3L757.2 660.4L757.6 664.0L758.0 666.9L758.1 667.8L758.4 665.9L758.8 661.9L759.2 657.2L759.6 652.1L760.0 647.2L760.4 643.0L760.8 640.1L760.8 640.4L761.2 643.9L761.6 648.5L762.0 653.7L762.4 659.1L762.8 664.3L763.2 668.8L763.6 672.1L763.6 672.1L764.0 668.4L764.4 663.5L764.8 657.8L765.2 651.8L765.6 645.7L766.0 639.9L766.4 634.9L766.8 630.9L766.9 630.3L767.2 634.4L767.6 641.0L768.0 648.7L768.4 656.8L768.8 664.8L769.2 671.9L769.6 677.5L769.7 678.7L770.0 676.3L770.4 672.0L770.8 667.0L771.2 661.5L771.6 656.0L772.0 650.9L772.4 646.4L772.8 643.4L772.8 643.8L773.2 648.0L773.6 653.5L774.0 659.8L774.4 666.3L774.8 672.5L775.2 677.9L775.6 682.0L775.6 681.9L776.0 678.5L776.4 674.1L776.8 669.0L777.2 663.5L777.6 657.8L778.0 652.2L778.4 647.0L778.8 642.4L779.2 638.7L779.3 638.0L779.6 641.3L780.0 647.0L780.4 653.8L780.8 661.2L781.2 668.7L781.6 676.0L782.0 682.5L782.4 687.8L782.6 689.6L782.8 687.0L783.2 681.2L783.6 674.1L784.0 666.3L784.4 658.6L784.8 651.5L785.2 645.7L785.4 643.4L785.6 645.4L786.0 650.6L786.4 657.0L786.8 664.2L787.2 671.6L787.6 678.8L788.0 685.4L788.4 690.9L788.7 694.0L788.8 692.3L789.2 685.2L789.6 676.2L790.0 666.3L790.4 656.1L790.8 646.6L791.2 638.5L791.5 633.6L791.6 634.7L792.0 641.2L792.4 649.5L792.8 658.9L793.2 668.8L793.6 678.6L794.0 687.8L794.4 695.7L794.8 701.6L794.8 701.4L795.2 693.4L795.6 683.0L796.0 671.0L796.4 658.3L796.8 645.8L797.2 634.4L797.6 624.9L797.8 620.5L798.0 623.2L798.4 631.9L798.8 642.6L799.2 654.6L799.6 667.1L800.0 679.4L800.4 690.6L800.8 700.2L801.1 705.9L801.2 704.4L801.6 695.5L802.0 684.1L802.4 671.3L802.8 658.2L803.2 645.8L803.6 635.2L803.9 628.1L804.0 628.9L804.4 636.4L804.8 646.0L805.2 657.0L805.6 668.6L806.0 680.2L806.4 691.1L806.8 700.5L807.2 707.8L807.2 708.1L807.6 702.5L808.0 694.7L808.4 685.7L808.8 676.0L809.2 666.3L809.6 657.0L810.0 648.9L810.4 642.4L810.5 641.2L810.8 645.6L811.2 653.0L811.6 661.6L812.0 671.1L812.4 680.7L812.8 689.9L813.2 698.2L813.6 704.9L813.8 707.0L814.0 702.6L814.4 692.9L814.8 681.2L815.2 668.6L815.6 656.0L816.0 644.4L816.4 635.0L816.6 631.4L816.8 634.6L817.2 642.5L817.6 652.1L818.0 662.8L818.4 673.8L818.8 684.6L819.2 694.5L819.6 702.7L819.9 707.0L820.0 704.9L820.4 696.6L820.8 686.3L821.2 674.7L821.6 662.5L822.0 650.5L822.4 639.4L822.8 630.0L823.1 623.8L823.2 624.7L823.6 632.5L824.0 642.2L824.4 653.4L824.8 665.4L825.2 677.7L825.6 689.7L826.0 700.9L826.4 710.6L826.8 718.3L826.8 719.0L827.2 709.3L827.6 694.5L828.0 677.3L828.4 659.5L828.8 642.7L829.2 628.7L829.5 621.6L829.6 623.8L830.0 632.3L830.4 642.7L830.8 654.5L831.2 666.8L831.6 679.0L832.0 690.2L832.4 699.7L832.7 705.9L832.8 705.0L833.2 697.2L833.6 687.2L834.0 675.9L834.4 664.3L834.8 653.2L835.2 643.6L835.6 636.9L835.6 637.2L836.0 643.3L836.4 651.1L836.8 660.0L837.2 669.6L837.6 679.1L838.0 688.1L838.4 696.0L838.8 702.1L838.8 702.7L839.2 695.4L839.6 684.5L840.0 671.9L840.4 658.6L840.8 645.7L841.2 634.2L841.6 625.2L841.7 623.8L842.0 629.2L842.4 638.1L842.8 648.5L843.2 659.8L843.6 671.0L844.0 681.5L844.4 690.4L844.7 696.1L844.8 694.8L845.2 684.3L845.6 670.7L846.0 655.8L846.4 641.1L846.8 628.4L847.1 620.5L847.2 621.7L847.6 630.7L848.0 642.1L848.4 655.0L848.8 668.6L849.2 681.8L849.6 693.8L850.0 703.5L850.2 707.0L850.4 703.3L850.8 694.1L851.2 683.0L851.6 671.0L852.0 658.9L852.4 647.7L852.8 638.6L853.0 634.7L853.2 637.1L853.6 643.9L854.0 652.2L854.4 661.4L854.8 671.0L855.2 680.5L855.6 689.1L856.0 696.4L856.3 700.5L856.4 698.4L856.8 687.9L857.2 674.6L857.6 660.3L858.0 646.8L858.4 636.0L858.5 633.2L858.8 637.2L859.2 645.2L859.6 654.8L860.0 665.1L860.4 675.3L860.8 684.6L861.2 692.1L861.4 694.7L861.6 691.5L862.0 684.3L862.4 675.5L862.8 665.9L863.2 656.1L863.6 646.8L864.0 638.7L864.4 632.5L864.4 632.1L864.8 637.1L865.2 644.1L865.6 652.2L866.0 660.9L866.4 669.7L866.8 678.1L867.2 685.5L867.6 691.3L867.7 692.5L868.0 687.2L868.4 678.0L868.8 667.1L869.2 655.5L869.6 644.1L870.0 633.8L870.4 625.6L870.5 623.4L870.8 628.2L871.2 637.6L871.6 648.9L872.0 661.1L872.4 673.1L872.8 684.0L873.2 692.9L873.4 695.8L873.6 691.9L874.0 683.2L874.4 672.8L874.8 661.3L875.2 649.7L875.6 638.6L876.0 629.0L876.4 621.6L876.4 621.2L876.8 627.9L877.2 637.2L877.6 647.9L878.0 659.2L878.4 670.1L878.8 679.8L879.2 687.3L879.3 688.1L879.6 682.7L880.0 674.3L880.4 664.5L880.8 654.2L881.2 644.1L881.6 635.1L882.0 628.0L882.1 626.7L882.4 630.5L882.8 637.1L883.2 644.8L883.6 653.2L884.0 661.5L884.4 669.4L884.8 676.1L885.1 680.5L885.2 679.6L885.6 670.9L886.0 659.6L886.4 647.0L886.8 634.6L887.2 623.8L887.5 616.9L887.6 617.5L888.0 623.2L888.4 630.4L888.8 638.7L889.2 647.4L889.6 656.2L890.0 664.4L890.4 671.5L890.8 677.0L890.8 677.2L891.2 671.6L891.6 663.8L892.0 654.9L892.4 645.7L892.8 637.0L893.2 629.9L893.4 626.7L893.6 628.5L894.0 634.3L894.4 641.4L894.8 649.3L895.2 657.2L895.6 664.6L896.0 670.8L896.3 674.0L896.4 672.7L896.8 667.6L897.2 661.3L897.6 654.3L898.0 647.4L898.4 641.1L898.8 636.2L898.9 635.4L899.2 638.2L899.6 643.0L900.0 648.5L900.4 654.4L900.8 660.0L901.2 664.7L901.5 667.4L901.6 666.6L902.0 661.9L902.4 655.8L902.8 649.3L903.2 642.9L903.6 637.4L903.9 634.3L904.0 634.9L904.4 638.0L904.8 642.0L905.2 646.4L905.6 650.8L906.0 654.8L906.4 657.9L906.5 658.7L906.8 657.1L907.2 654.0L907.6 650.4L908.0 646.8L908.4 643.7L908.7 641.9L908.8 642.2L909.2 643.8L909.6 645.8L910.0 648.0L910.4 650.3L910.8 652.4L911.2 654.2L911.5 655.4L911.6 655.3L912.0 654.3L912.4 653.0L912.8 651.6L913.2 650.1L913.6 648.8L914.0 647.7L914.2 647.4L914.4 647.9L914.8 648.8L915.2 650.0L915.6 651.3L916.0 652.5L916.4 653.6L916.8 654.3L916.8 654.2L917.2 651.2L917.6 647.2L918.0 642.8L918.4 638.6L918.8 635.3L919.0 634.3L919.2 636.3L919.6 640.7L920.0 645.5L920.4 649.4L920.5 650.0L920.8 647.4L921.2 643.1L921.6 638.3L922.0 633.7L922.4 630.2L922.4 630.0L922.8 631.8L923.2 634.6L923.6 637.6L924.0 640.2L924.2 641.0L924.4 639.5L924.8 635.8L925.2 631.2L925.6 626.4L926.0 621.9L926.4 618.2L926.6 616.9L926.8 617.8L927.2 620.4L927.6 623.3L928.0 625.7L928.1 626.2L928.4 623.7L928.8 618.9L929.2 613.3L929.6 607.6L930.0 602.3L930.4 598.1L930.5 597.2L930.8 601.0L931.2 608.2L931.6 616.4L932.0 624.7L932.4 631.9L932.7 635.8L932.8 635.1L933.2 631.5L933.6 627.0L934.0 622.0L934.4 617.0L934.8 612.5L935.2 608.9L935.3 608.1L935.6 609.5L936.0 612.0L936.4 614.9L936.8 617.8L937.2 620.3L937.5 621.6L937.6 620.9L938.0 617.4L938.4 613.0L938.8 608.1L939.2 603.1L939.6 598.3L940.0 594.3L940.3 591.8L940.4 593.0L940.8 602.0L941.2 613.7L941.6 625.9L942.0 636.7L942.3 642.3L942.4 640.9L942.8 634.3L943.2 625.9L943.6 616.7L944.0 607.8L944.4 600.2L944.7 596.1L944.8 597.5L945.2 604.1L945.6 612.5L946.0 621.4L946.4 629.7L946.8 636.0L946.9 636.9L947.2 631.5L947.6 622.8L948.0 612.8L948.4 602.9L948.8 594.6L949.1 590.7L949.2 593.3L949.6 602.7L950.0 614.3L950.4 626.6L950.8 637.7L951.2 646.2L951.2 646.7L951.6 641.0L952.0 632.7L952.4 623.3L952.8 613.4L953.2 604.2L953.6 596.5L953.8 592.9L954.0 594.9L954.4 602.1L954.8 611.1L955.2 620.7L955.6 629.9L956.0 637.6L956.2 641.2L956.4 639.0L956.8 631.2L957.2 621.6L957.6 611.0L958.0 600.6L958.4 591.2L958.8 584.0L958.9 583.1L959.2 590.8L959.6 603.3L960.0 617.5L960.4 631.6L960.8 643.5L961.0 648.9L961.2 646.2L961.6 636.9L962.0 625.5L962.4 612.9L962.8 600.5L963.2 589.4L963.6 580.9L963.7 579.8L964.0 586.8L964.4 598.1L964.8 611.1L965.2 624.3L965.6 636.3L966.0 645.6L966.1 646.7L966.4 640.4L966.8 630.5L967.2 619.0L967.6 606.9L968.0 595.6L968.4 586.0L968.7 580.9L968.8 583.4L969.2 594.7L969.6 608.9L970.0 624.1L970.4 638.0L970.8 648.7L970.9 650.0L971.2 644.3L971.6 635.5L972.0 625.2L972.4 614.3L972.8 603.7L973.2 594.2L973.6 586.7L973.7 585.2L974.0 591.5L974.4 602.8L974.8 615.8L975.2 628.8L975.6 639.9L975.9 645.6L976.0 643.6L976.4 634.8L976.8 623.8L977.2 611.7L977.6 599.7L978.0 588.8L978.4 580.3L978.5 578.7L978.8 584.7L979.2 595.3L979.6 607.7L980.0 620.7L980.4 633.1L980.8 643.7L981.1 650.0L981.2 648.5L981.6 639.8L982.0 628.7L982.4 616.3L982.8 603.6L983.2 591.5L983.6 581.2L983.9 574.3L984.0 575.3L984.4 585.2L984.8 597.9L985.2 612.3L985.6 626.8L986.0 640.1L986.4 650.9L986.6 654.3L986.8 650.0L987.2 640.5L987.6 629.0L988.0 616.5L988.4 604.1L988.8 592.7L989.2 583.4L989.4 579.8L989.6 583.5L990.0 593.2L990.4 605.0L990.8 617.8L991.2 630.3L991.6 641.3L992.0 649.7L992.0 650.0L992.4 641.7L992.8 630.2L993.2 617.0L993.6 603.2L994.0 589.8L994.4 577.9L994.8 568.7L994.9 567.8L995.2 576.6L995.6 590.0L996.0 605.6L996.4 621.8L996.8 637.1L997.2 650.0L997.5 656.5L997.6 654.2L998.0 644.9L998.4 633.3L998.8 620.5L999.2 607.4L999.6 595.1L1000.0 584.7L1000.3 578.7L1000.4 580.4L1000.8 589.8L1001.2 601.7L1001.6 614.9L1002.0 628.2L1002.4 640.3L1002.8 649.9L1002.9 652.1L1003.2 645.6L1003.6 632.9L1004.0 618.0L1004.4 602.5L1004.8 588.3L1005.2 576.9L1005.3 574.3L1005.6 580.0L1006.0 590.9L1006.4 603.8L1006.8 617.4L1007.2 630.5L1007.6 641.7L1007.9 648.9L1008.0 648.0L1008.4 640.5L1008.8 630.8L1009.2 619.8L1009.6 608.6L1010.0 597.8L1010.4 588.5L1010.8 582.0L1010.8 582.3L1011.2 589.6L1011.6 598.9L1012.0 609.6L1012.4 621.0L1012.8 632.1L1013.2 642.2L1013.6 650.6L1013.8 654.3L1014.0 651.2L1014.4 641.8L1014.8 630.2L1015.2 617.4L1015.6 604.6L1016.0 592.6L1016.4 582.6L1016.7 577.6L1016.8 579.7L1017.2 587.6L1017.6 597.4L1018.0 608.5L1018.4 620.0L1018.8 631.3L1019.2 641.8L1019.6 650.7L1019.9 656.5L1020.0 655.6L1020.4 649.1L1020.8 640.8L1021.2 631.3L1021.6 621.2L1022.0 611.2L1022.4 601.8L1022.8 593.7L1023.2 587.5L1023.2 587.4L1023.6 594.3L1024.0 603.5L1024.4 614.1L1024.8 625.2L1025.2 635.9L1025.6 645.4L1026.0 652.6L1026.0 653.2L1026.4 647.6L1026.8 639.4L1027.2 629.9L1027.6 619.6L1028.0 609.2L1028.4 599.3L1028.8 590.6L1029.2 583.5L1029.3 582.0L1029.6 586.5L1030.0 594.6L1030.4 604.2L1030.8 614.7L1031.2 625.4L1031.6 635.8L1032.0 645.1L1032.4 652.7L1032.6 655.4L1032.8 652.8L1033.2 646.6L1033.6 639.2L1034.0 631.0L1034.4 622.3L1034.8 613.5L1035.2 605.1L1035.6 597.5L1036.0 591.1L1036.3 587.4L1036.4 589.4L1036.8 598.9L1037.2 610.9L1037.6 624.1L1038.0 637.4L1038.4 649.4L1038.8 658.9L1038.9 660.9L1039.2 658.6L1039.6 654.5L1040.0 649.3L1040.4 643.3L1040.8 636.9L1041.2 630.1L1041.6 623.4L1042.0 616.9L1042.4 610.8L1042.8 605.5L1043.2 601.2L1043.6 598.3L1043.6 598.6L1044.0 602.3L1044.4 607.0L1044.8 612.4L1045.2 617.8L1045.6 622.8L1046.0 626.8L1046.2 628.2L1046.4 626.5L1046.8 622.7L1047.2 618.1L1047.6 613.1L1048.0 608.1L1048.4 603.6L1048.8 599.8L1049.0 598.3L1049.2 599.4L1049.6 602.3L1050.0 605.7L1050.4 609.6L1050.8 613.7L1051.2 617.8L1051.6 621.8L1052.0 625.4L1052.4 628.4L1052.7 630.3L1052.8 629.9L1053.2 627.1L1053.6 623.5L1054.0 619.5L1054.4 615.4L1054.8 611.5L1055.2 608.2L1055.6 606.0L1055.6 606.1L1056.0 607.4L1056.4 608.9L1056.8 610.8L1057.2 612.8L1057.6 614.8L1058.0 616.7L1058.4 618.6L1058.8 620.2L1059.2 621.5L1059.3 621.6L1059.6 620.3L1060.0 618.3L1060.4 615.9L1060.8 613.3L1061.2 610.7L1061.6 608.2L1062.0 606.0L1062.4 604.2L1062.5 603.8L1062.8 604.5L1063.2 606.0L1063.6 607.8L1064.0 609.7L1064.4 611.7L1064.8 613.6L1065.2 615.3L1065.6 616.7L1065.8 617.2L1066.0 617.0L1066.4 616.4L1066.8 615.7L1067.2 615.0L1067.6 614.1L1068.0 613.3L1068.4 612.5L1068.8 611.7L1069.2 611.0L1069.6 610.5L1069.7 610.3L1070.0 610.5L1070.4 610.9L1070.8 611.3L1071.2 611.7L1071.6 612.2L1072.0 612.7L1072.4 613.3L1072.8 613.9L1073.2 614.5L1073.6 615.1L1074.0 615.8L1074.4 616.5L1074.8 617.2L1075.2 617.9L1075.6 618.6L1076.0 619.3L1076.4 620.1L1076.8 620.8L1077.2 621.6L1077.6 622.3L1078.0 623.1L1078.4 623.8L1078.8 624.5L1078.9 624.7L1079.2 625.4L1079.6 626.4L1080.0 627.3L1080.4 628.3L1080.8 629.3L1081.2 630.3L1081.6 631.3L1082.0 632.4L1082.4 633.4L1082.8 634.5L1083.2 635.6L1083.6 636.7L1084.0 637.9L1084.4 639.0L1084.8 640.2L1085.2 641.4L1085.4 642.1L1085.6 642.9L1086.0 644.7L1086.4 646.7L1086.8 648.8L1087.2 651.0L1087.6 653.3L1088.0 655.6L1088.4 657.8L1088.8 660.1L1089.2 662.3L1089.6 664.3L1090.0 666.3L1090.4 668.0L1090.8 669.6L1091.2 670.9L1091.5 671.8L1091.6 671.2L1092.0 667.0L1092.4 661.7L1092.8 655.7L1093.2 649.1L1093.6 642.5L1094.0 636.0L1094.4 629.9L1094.8 624.7L1095.2 620.5L1095.2 620.1L1095.6 621.5L1096.0 623.6L1096.4 626.0L1096.8 628.7L1097.2 631.7L1097.6 635.0L1098.0 638.4L1098.4 642.0L1098.8 645.6L1099.2 649.2L1099.6 652.7L1100.0 656.2L1100.4 659.5L1100.8 662.6L1101.2 665.4L1101.6 667.9L1102.0 670.0L1102.4 671.6L1102.4 671.8L1102.8 669.1L1103.2 665.4L1103.6 661.0L1104.0 656.2L1104.4 651.2L1104.8 646.3L1105.2 641.7L1105.6 637.6L1106.0 634.2L1106.2 633.2L1106.4 634.0L1106.8 635.5L1107.2 637.3L1107.6 639.5L1108.0 641.8L1108.4 644.4L1108.8 647.1L1109.2 649.9L1109.6 652.7L1110.0 655.4L1110.4 658.1L1110.8 660.7L1111.2 663.1L1111.6 665.3L1112.0 667.1L1112.4 668.7L1112.7 669.6L1112.8 669.0L1113.2 666.1L1113.6 662.4L1114.0 658.3L1114.4 653.9L1114.8 649.6L1115.2 645.6L1115.6 642.2L1116.0 639.8L1116.0 640.0L1116.4 642.7L1116.8 646.3L1117.2 650.3L1117.6 654.7L1118.0 659.0L1118.4 663.1L1118.8 666.6L1119.2 669.4L1119.2 669.6L1119.6 663.3L1120.0 654.0L1120.4 643.5L1120.8 633.2L1121.2 624.7L1121.4 621.2L1121.6 622.7L1122.0 626.5L1122.4 631.1L1122.8 636.3L1123.2 641.8L1123.6 647.6L1124.0 653.4L1124.4 659.0L1124.8 664.1L1125.2 668.7L1125.6 672.5L1125.8 674.0L1126.0 671.0L1126.4 663.9L1126.8 655.3L1127.2 646.1L1127.6 637.1L1128.0 629.3L1128.4 623.4L1128.4 623.4L1128.8 626.3L1129.2 630.0L1129.6 634.3L1130.0 638.9L1130.4 643.7L1130.8 648.5L1131.2 653.1L1131.6 657.3L1132.0 660.8L1132.3 663.0L1132.4 662.7L1132.8 660.3L1133.2 657.2L1133.6 653.7L1134.0 650.2L1134.4 646.8L1134.8 643.9L1135.2 641.9L1135.2 642.2L1135.6 645.3L1136.0 649.2L1136.4 653.8L1136.8 658.6L1137.2 663.4L1137.6 667.9L1138.0 671.8L1138.4 674.9L1138.4 675.0L1138.8 670.0L1139.2 662.7L1139.6 654.4L1140.0 645.8L1140.4 637.7L1140.8 630.9L1141.0 627.8L1141.2 628.3L1141.6 630.2L1142.0 632.5L1142.4 635.2L1142.8 638.3L1143.2 641.6L1143.6 645.0L1144.0 648.5L1144.4 651.9L1144.8 655.1L1145.2 658.2L1145.6 660.8L1146.0 663.1L1146.4 664.9L1146.5 665.2L1146.8 662.7L1147.2 658.3L1147.6 653.1L1148.0 647.5L1148.4 642.0L1148.8 637.1L1149.2 633.2L1149.3 632.1L1149.6 634.7L1150.0 639.8L1150.4 645.9L1150.8 652.3L1151.2 658.5L1151.6 663.9L1152.0 667.4L1152.0 667.1L1152.4 663.7L1152.8 659.4L1153.2 654.6L1153.6 649.3L1154.0 643.9L1154.4 638.6L1154.8 633.7L1155.2 629.4L1155.6 626.0L1155.7 625.6L1156.0 627.5L1156.4 630.2L1156.8 633.5L1157.2 637.1L1157.6 640.8L1158.0 644.6L1158.4 648.2L1158.8 651.5L1159.2 654.3L1159.6 656.5L1159.6 656.5L1160.0 655.8L1160.4 654.8L1160.8 653.8L1161.2 652.8L1161.6 652.0L1161.8 651.8L1162.0 653.0L1162.4 655.8L1162.8 659.1L1163.2 662.5L1163.6 665.5L1163.9 667.4L1164.0 667.0L1164.4 663.0L1164.8 657.8L1165.2 651.9L1165.6 645.7L1166.0 639.5L1166.4 633.6L1166.8 628.6L1167.2 624.7L1167.2 624.5L1167.6 626.1L1168.0 628.3L1168.4 630.8L1168.8 633.6L1169.2 636.3L1169.6 639.0L1170.0 641.3L1170.4 643.1L1170.5 643.4L1170.8 643.2L1171.2 642.8L1171.6 642.3L1172.0 641.8L1172.4 641.2L1172.8 640.7L1173.2 640.3L1173.6 639.9L1173.8 639.8L1174.0 640.6L1174.4 642.5L1174.8 644.6L1175.2 647.1L1175.6 649.7L1176.0 652.3L1176.4 655.0L1176.8 657.5L1177.2 659.9L1177.6 662.0L1178.0 663.7L1178.1 664.1L1178.4 663.2L1178.8 661.3L1179.2 659.0L1179.6 656.4L1180.0 653.6L1180.4 650.5L1180.8 647.3L1181.2 644.1L1181.6 641.0L1182.0 638.0L1182.4 635.2L1182.8 632.7L1183.2 630.6L1183.6 629.1L1183.6 629.0L1184.0 628.8L1184.4 628.6L1184.8 628.4L1185.2 628.2L1185.6 628.0L1186.0 627.8L1186.4 627.7L1186.8 627.5L1187.2 627.3L1187.6 627.1L1187.9 626.9L1188.0 626.7L1188.4 625.8L1188.8 624.7L1189.2 623.4L1189.6 622.0L1190.0 620.5L1190.4 619.0L1190.8 617.3L1191.2 615.6L1191.6 613.9L1192.0 612.2L1192.4 610.6L1192.8 608.9L1193.2 607.4L1193.6 605.9L1194.0 604.5L1194.4 603.3L1194.8 602.2L1195.2 601.2L1195.6 600.5L1195.6 600.7L1196.0 604.2L1196.4 608.5L1196.8 613.5L1197.2 618.9L1197.6 624.6L1198.0 630.4L1198.4 636.1L1198.8 641.5L1199.2 646.3L1199.6 650.5L1199.9 653.2L1200.0 653.0L1200.4 651.2L1200.8 648.9L1201.2 646.1L1201.6 643.1L1202.0 639.7L1202.4 636.1L1202.8 632.4L1203.2 628.5L1203.6 624.7L1204.0 620.8L1204.4 617.1L1204.8 613.4L1205.2 610.1L1205.6 606.9L1206.0 604.2L1206.4 601.8L1206.8 599.9L1206.9 599.4L1207.2 600.5L1207.6 602.5L1208.0 604.9L1208.4 607.5L1208.8 610.0L1209.2 612.4L1209.6 614.3L1209.8 614.9L1210.0 614.0L1210.4 611.6L1210.8 608.8L1211.2 606.4L1211.4 605.5L1211.6 606.5L1212.0 609.5L1212.4 613.0L1212.8 616.6L1213.2 619.7L1213.5 621.1L1213.6 620.1L1214.0 616.9L1214.4 612.8L1214.8 608.4L1215.2 604.0L1215.6 600.1L1216.0 597.0L1216.1 596.3L1216.4 599.7L1216.8 605.5L1217.2 612.4L1217.6 619.9L1218.0 627.3L1218.4 634.4L1218.8 640.4L1219.2 644.5L1219.2 644.0L1219.6 638.2L1220.0 630.7L1220.4 622.1L1220.8 613.1L1221.2 604.6L1221.6 597.1L1222.0 591.4L1222.0 591.3L1222.4 599.6L1222.8 611.4L1223.2 624.6L1223.6 637.5L1224.0 648.5L1224.3 653.7L1224.4 652.0L1224.8 646.3L1225.2 639.3L1225.6 631.4L1226.0 622.8L1226.4 614.1L1226.8 605.4L1227.2 597.2L1227.6 589.7L1228.0 583.3L1228.3 579.0L1228.4 580.0L1228.8 587.4L1229.2 597.0L1229.6 607.8L1230.0 619.2L1230.4 630.3L1230.8 640.3L1231.2 648.5L1231.4 651.6L1231.6 648.6L1232.0 641.0L1232.4 631.8L1232.8 621.6L1233.2 611.2L1233.6 601.3L1234.0 592.6L1234.4 585.9L1234.5 585.1L1234.8 591.4L1235.2 600.7L1235.6 611.7L1236.0 623.5L1236.4 635.2L1236.8 646.1L1237.2 655.3L1237.5 660.8L1237.6 659.6L1238.0 652.9L1238.4 644.5L1238.8 634.9L1239.2 624.7L1239.6 614.4L1240.0 604.6L1240.4 595.9L1240.8 588.7L1241.0 586.2L1241.2 589.2L1241.6 596.4L1242.0 605.1L1242.4 614.5L1242.8 623.7L1243.2 631.8L1243.6 638.0L1243.6 638.4L1244.0 630.4L1244.4 618.7L1244.8 605.4L1245.2 591.9L1245.6 579.7L1246.0 570.2L1246.1 568.8L1246.4 574.3L1246.8 582.9L1247.2 593.1L1247.6 604.2L1248.0 615.7L1248.4 626.8L1248.8 637.1L1249.2 645.8L1249.5 651.6L1249.6 650.8L1250.0 643.6L1250.4 634.3L1250.8 623.8L1251.2 612.6L1251.6 601.4L1252.0 591.0L1252.4 582.0L1252.8 575.0L1252.8 574.9L1253.2 581.6L1253.6 590.4L1254.0 600.6L1254.4 611.5L1254.8 622.2L1255.2 632.1L1255.6 640.3L1255.9 644.5L1256.0 642.4L1256.4 634.5L1256.8 624.7L1257.2 613.7L1257.6 602.3L1258.0 591.4L1258.4 581.6L1258.8 573.8L1258.9 571.9L1259.2 577.5L1259.6 588.2L1260.0 600.8L1260.4 614.5L1260.8 628.0L1261.2 640.3L1261.6 650.3L1261.8 653.7L1262.0 650.4L1262.4 643.0L1262.8 634.1L1263.2 624.1L1263.6 613.6L1264.0 603.2L1264.4 593.2L1264.8 584.1L1265.2 576.6L1265.4 572.9L1265.6 575.6L1266.0 584.8L1266.4 596.3L1266.8 609.0L1267.2 622.1L1267.6 634.7L1268.0 645.9L1268.4 654.9L1268.5 656.7L1268.8 651.6L1269.2 642.6L1269.6 631.8L1270.0 620.1L1270.4 607.9L1270.8 596.1L1271.2 585.1L1271.6 575.6L1272.0 568.8L1272.0 569.7L1272.4 586.9L1272.8 609.9L1273.2 634.8L1273.6 657.7L1274.0 674.7L1274.0 675.1L1274.4 665.7L1274.8 653.0L1275.2 638.4L1275.6 622.8L1276.0 607.3L1276.4 593.1L1276.8 581.2L1277.1 574.9L1277.2 577.8L1277.6 589.9L1278.0 605.1L1278.4 620.8L1278.8 634.6L1279.1 642.5L1279.2 641.3L1279.6 634.6L1280.0 626.2L1280.4 616.7L1280.8 606.8L1281.2 597.1L1281.6 588.4L1282.0 581.4L1282.2 579.0L1282.4 583.1L1282.8 592.2L1283.2 603.2L1283.6 615.3L1284.0 627.6L1284.4 639.3L1284.8 649.5L1285.2 657.3L1285.2 657.8L1285.6 652.0L1286.0 644.1L1286.4 634.8L1286.8 624.7L1287.2 614.3L1287.6 604.1L1288.0 594.5L1288.4 586.1L1288.8 579.4L1288.9 578.0L1289.2 587.1L1289.6 603.5L1290.0 622.3L1290.4 640.4L1290.8 655.1L1290.9 658.8L1291.2 654.7L1291.6 646.8L1292.0 637.4L1292.4 627.0L1292.8 616.1L1293.2 605.3L1293.6 595.0L1294.0 585.7L1294.4 578.1L1294.6 574.9L1294.8 578.0L1295.2 586.2L1295.6 596.2L1296.0 607.2L1296.4 618.3L1296.8 628.5L1297.2 637.1L1297.5 641.4L1297.6 639.9L1298.0 634.4L1298.4 627.5L1298.8 619.8L1299.2 611.7L1299.6 603.7L1300.0 596.3L1300.4 590.1L1300.7 586.2L1300.8 587.0L1301.2 592.7L1301.6 600.0L1302.0 608.3L1302.4 616.9L1302.8 625.4L1303.2 633.0L1303.6 639.2L1303.8 641.4L1304.0 639.2L1304.4 634.0L1304.8 627.7L1305.2 620.6L1305.6 613.3L1306.0 606.0L1306.4 599.3L1306.8 593.3L1307.2 588.7L1307.3 588.2L1307.6 594.0L1308.0 602.9L1308.4 613.1L1308.8 623.9L1309.2 634.0L1309.6 642.7L1309.9 647.6L1310.0 646.6L1310.4 641.6L1310.8 635.3L1311.2 628.2L1311.6 620.6L1312.0 613.0L1312.4 605.8L1312.8 599.3L1313.2 594.0L1313.4 592.3L1313.6 595.2L1314.0 601.9L1314.4 610.0L1314.8 618.7L1315.2 627.1L1315.6 634.6L1316.0 640.2L1316.0 640.4L1316.4 636.3L1316.8 630.6L1317.2 624.0L1317.6 617.0L1318.0 610.0L1318.4 603.6L1318.8 598.2L1319.1 595.3L1319.2 596.8L1319.6 602.9L1320.0 610.6L1320.4 619.1L1320.8 627.9L1321.2 636.1L1321.6 643.1L1321.9 647.6L1322.0 647.1L1322.4 643.9L1322.8 639.9L1323.2 635.3L1323.6 630.3L1324.0 625.2L1324.4 620.0L1324.8 615.1L1325.2 610.6L1325.6 606.7L1326.0 603.6L1326.0 603.5L1326.4 605.8L1326.8 608.9L1327.2 612.6L1327.6 616.4L1328.0 620.2L1328.4 623.7L1328.8 626.7L1329.1 628.2L1329.2 627.8L1329.6 626.2L1330.0 624.3L1330.4 622.2L1330.8 619.8L1331.2 617.4L1331.6 615.0L1332.0 612.7L1332.4 610.5L1332.8 608.6L1333.2 607.0L1333.4 606.5L1333.6 607.9L1334.0 610.8L1334.4 614.2L1334.8 617.9L1335.2 621.3L1335.6 624.1L1335.8 625.1L1336.0 624.9L1336.4 624.3L1336.8 623.6L1337.2 622.7L1337.6 621.8L1338.0 620.8L1338.4 619.8L1338.8 618.8L1339.2 617.9L1339.6 617.0L1340.0 616.3L1340.4 615.8L1340.5 615.7L1340.8 616.2L1341.2 617.0L1341.6 618.0L1342.0 619.0L1342.4 620.1L1342.8 621.2L1343.2 622.4L1343.6 623.5L1344.0 624.6L1344.4 625.6L1344.4 625.7L1344.8 626.9L1345.2 628.0L1345.6 629.2L1346.0 630.4L1346.4 631.5L1346.8 632.8L1347.2 634.1L1347.4 634.8L1347.6 635.7L1348.0 637.7L1348.4 639.8L1348.8 642.0L1349.2 644.3L1349.6 646.6L1349.7 647.0L1350.0 650.1L1350.4 653.9L1350.8 658.0L1351.2 662.0L1351.6 665.9L1351.7 666.8L1352.0 669.1L1352.4 672.3L1352.8 675.4L1353.2 678.2L1353.6 680.6L1353.7 681.2L1354.0 677.6L1354.4 670.1L1354.8 661.1L1355.2 651.7L1355.6 642.9L1356.0 635.6L1356.2 633.1L1356.4 635.1L1356.8 640.3L1357.2 646.7L1357.6 653.5L1358.0 660.2L1358.4 666.1L1358.8 670.6L1358.8 671.0L1359.2 668.1L1359.6 664.0L1360.0 659.1L1360.4 653.9L1360.8 648.5L1361.2 643.3L1361.6 638.5L1362.0 634.5L1362.3 632.0L1362.4 633.1L1362.8 639.4L1363.2 647.3L1363.6 656.1L1364.0 664.7L1364.4 672.2L1364.8 677.1L1364.8 676.7L1365.2 671.5L1365.6 664.8L1366.0 657.2L1366.4 649.4L1366.8 642.3L1367.2 636.4L1367.4 634.1L1367.6 636.2L1368.0 641.5L1368.4 647.8L1368.8 655.2L1369.2 663.4L1369.4 668.9" fill="none" stroke="#2b3698" stroke-width="3.7" stroke-linejoin="round"/>
<defs><filter id="gray" x="0" y="0" width="100%" height="100%" filterUnits="userSpaceOnUse" primitiveUnits="userSpaceOnUse"><feColorMatrix type="saturate" values="0"/></filter></defs>
<g id="labels" filter="url(#gray)">
<g fill="#1a1a1a" stroke="#1a1a1a" stroke-width="0.25" font-size="33">
<text transform="translate(38.94 35.90) scale(0.740 1)">2</text>
<text transform="translate(52.52 35.90) scale(0.740 1)">0</text>
<path vector-effect="non-scaling-stroke" transform="translate(39.34 118.40) scale(0.01192 -0.01611)" d="M515 0V1237L197 1010V1180L530 1409H696V0Z"/>
<text transform="translate(52.52 118.40) scale(0.740 1)">8</text>
<path vector-effect="non-scaling-stroke" transform="translate(39.34 200.90) scale(0.01192 -0.01611)" d="M515 0V1237L197 1010V1180L530 1409H696V0Z"/>
<text transform="translate(52.52 200.90) scale(0.740 1)">6</text>
<path vector-effect="non-scaling-stroke" transform="translate(41.14 276.40) scale(0.01192 -0.01611)" d="M515 0V1237L197 1010V1180L530 1409H696V0Z"/>
<text transform="translate(54.32 276.40) scale(0.740 1)">4</text>
<path vector-effect="non-scaling-stroke" transform="translate(39.34 365.90) scale(0.01192 -0.01611)" d="M515 0V1237L197 1010V1180L530 1409H696V0Z"/>
<text transform="translate(52.52 365.90) scale(0.740 1)">2</text>
<path vector-effect="non-scaling-stroke" transform="translate(39.34 448.40) scale(0.01192 -0.01611)" d="M515 0V1237L197 1010V1180L530 1409H696V0Z"/>
<text transform="translate(52.52 448.40) scale(0.740 1)">0</text>
<text transform="translate(52.52 530.90) scale(0.740 1)">8</text>
<text transform="translate(52.52 613.40) scale(0.740 1)">6</text>
<text transform="translate(52.52 695.90) scale(0.740 1)">4</text>
<text transform="translate(52.52 778.40) scale(0.740 1)">2</text>
<text transform="translate(52.52 860.90) scale(0.740 1)">0</text>
<text transform="translate(68.21 894.60) scale(0.740 1)">0</text>
<text transform="translate(307.71 894.60) scale(0.740 1)">5</text>
<path vector-effect="non-scaling-stroke" transform="translate(542.02 894.60) scale(0.01192 -0.01611)" d="M515 0V1237L197 1010V1180L530 1409H696V0Z"/>
<text transform="translate(555.20 894.60) scale(0.740 1)">0</text>
<path vector-effect="non-scaling-stroke" transform="translate(782.22 894.60) scale(0.01192 -0.01611)" d="M515 0V1237L197 1010V1180L530 1409H696V0Z"/>
<text transform="translate(795.40 894.60) scale(0.740 1)">5</text>
<text transform="translate(1020.22 894.60) scale(0.740 1)">2</text>
<text transform="translate(1033.80 894.60) scale(0.740 1)">0</text>
<text transform="translate(1259.92 894.60) scale(0.740 1)">2</text>
<text transform="translate(1273.50 894.60) scale(0.740 1)">5</text>
</g>
<text transform="translate(647.0 904.4) scale(0.754 1)" font-size="36" fill="#1a1a1a" stroke="#1a1a1a" stroke-width="0.5">time(s)</text>
<text transform="translate(27.8 607.7) rotate(-90) scale(1.2378 1)" font-size="27.3" fill="#1a1a1a" stroke="#1a1a1a" stroke-width="0.4">control</text>
<text transform="translate(27.8 494.7) rotate(-90) scale(1.3082 1)" font-size="27.3" fill="#1a1a1a" stroke="#1a1a1a" stroke-width="0.4">signal</text>
<text transform="translate(27.8 400.5) rotate(-90) scale(1.3486 1)" font-size="27.3" fill="#1a1a1a" stroke="#1a1a1a" stroke-width="0.4">(voltage)</text>
</g>
<rect x="1190.9" y="24.8" width="177.0" height="82.5" fill="#ffffff" stroke="none"/>
<g stroke="#222222" fill="none">
<line x1="1190.0" y1="24.8" x2="1368.8" y2="24.8" stroke-width="3.3"/>
<line x1="1190.9" y1="24.8" x2="1190.9" y2="107.3" stroke-width="1.8"/>
<line x1="1190.0" y1="107.3" x2="1368.8" y2="107.3" stroke-width="1.8"/>
<line x1="1367.9" y1="24.8" x2="1367.9" y2="107.3" stroke-width="2.2"/>
</g>
<line x1="1195.9" y1="48.2" x2="1232.4" y2="48.2" stroke="#d61e2a" stroke-width="5.6"/>
<line x1="1195.9" y1="86.35" x2="1232.4" y2="86.35" stroke="#2b3698" stroke-width="4.5"/>
<g fill="#1a1a1a" stroke="#1a1a1a" stroke-width="0.5" font-size="28" filter="url(#gray)">
<text transform="translate(1236.2 60.3) scale(0.785 1)">simulation</text>
<text transform="translate(1236.2 98.0) scale(0.785 1)">experimental</text>
</g>
</svg>
</body></html>
